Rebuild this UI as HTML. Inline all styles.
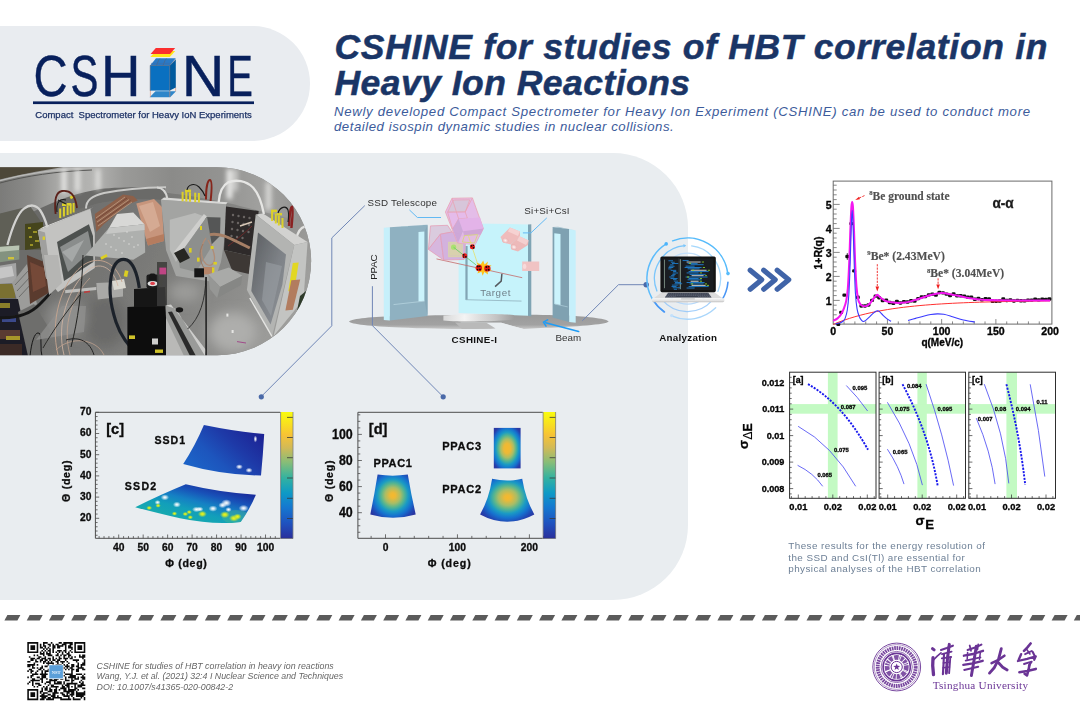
<!DOCTYPE html>
<html>
<head>
<meta charset="utf-8">
<title>CSHINE</title>
<style>
html,body{margin:0;padding:0;background:#fff;}
body{width:1080px;height:726px;position:relative;overflow:hidden;font-family:"Liberation Sans",sans-serif;}
.abs{position:absolute;}
#pill{left:0;top:26px;width:310px;height:115px;background:#e9ecf0;border-radius:0 58px 58px 0;}
#panel{left:0;top:153px;width:688px;height:447px;background:#e9edf0;border-radius:0 75px 75px 0;}
#title{left:334.5px;top:28.6px;width:740px;color:#1a3566;font-weight:bold;font-style:italic;font-size:35.5px;line-height:36.3px;white-space:nowrap;-webkit-text-stroke:0.5px #1a3566;}
#t1{letter-spacing:0.68px;}#t2{letter-spacing:0.46px;}
#sub{left:334px;top:105.3px;width:740px;color:#3c5b9b;font-style:italic;font-size:13.2px;line-height:14.4px;white-space:nowrap;}
#s1{letter-spacing:0.70px;}#s2{letter-spacing:0.535px;}
#cite{left:96.6px;top:660.6px;color:#666;font-style:italic;font-size:8.8px;line-height:10.5px;white-space:nowrap;}
#caption{left:788.3px;top:540.2px;color:#6c7f95;font-size:9.9px;line-height:11.35px;white-space:nowrap;letter-spacing:0.42px;}
svg{position:absolute;left:0;top:0;overflow:visible;will-change:transform;}
svg text{font-family:"Liberation Sans",sans-serif;}
</style>
</head>
<body>
<div id="pill" class="abs"></div>
<div id="panel" class="abs"></div>

<div id="title" class="abs"><span id="t1">CSHINE for studies of HBT correlation in</span><br><span id="t2">Heavy Ion Reactions</span></div>
<div id="sub" class="abs"><span id="s1">Newly developed Compact Spectrometer for Heavy Ion Experiment (CSHINE) can be used to conduct more</span><br><span id="s2">detailed isospin dynamic studies in nuclear collisions.</span></div>

<!-- MAIN-SVG -->
<svg id="main" width="1080" height="726" viewBox="0 0 1080 726">
<defs>
</defs>
<!-- LOGO -->
<g id="logo">
<text transform="translate(33.60,96.20) scale(0.4721,0.5727)" font-size="100" font-weight="normal" font-style="normal" fill="#08205c" stroke="#08205c" stroke-width="0.8">C</text>
<text transform="translate(70.50,96.20) scale(0.4186,0.5727)" font-size="100" font-weight="normal" font-style="normal" fill="#08205c" stroke="#08205c" stroke-width="0.8">S</text>
<text transform="translate(100.92,96.20) scale(0.5460,0.5727)" font-size="100" font-weight="normal" font-style="normal" fill="#08205c" stroke="#08205c" stroke-width="0.8">H</text>
<text transform="translate(181.75,96.20) scale(0.5908,0.5727)" font-size="100" font-weight="normal" font-style="normal" fill="#08205c" stroke="#08205c" stroke-width="0.8">N</text>
<text transform="translate(227.25,96.20) scale(0.3838,0.5727)" font-size="100" font-weight="normal" font-style="normal" fill="#08205c" stroke="#08205c" stroke-width="0.8">E</text>
<rect x="33" y="101.4" width="221" height="2.7" fill="#08205c"/>
<text x="35.3" y="117.8" font-size="9.1" fill="#1d3266" stroke="#1d3266" stroke-width="0.25" textLength="216.5" lengthAdjust="spacingAndGlyphs" xml:space="preserve">Compact  Spectrometer for Heavy IoN Experiments</text>
<polygon points="150.3,57 156,51 175.3,51 169.8,57" fill="#ffe71a"/>
<polygon points="150.6,53.9 155.8,48 175.2,48 170,53.9" fill="#fb2e2e"/>
<polygon points="149.6,97.3 170.2,97.3 176,91.2 155.5,91.2" fill="#2f86c9"/>
<g stroke="#d98a6a" stroke-width="0.6"><line x1="150.4" y1="90" x2="150.4" y2="97"/><line x1="169.8" y1="90" x2="169.8" y2="97"/><line x1="175.6" y1="87" x2="175.6" y2="91.5"/></g>
<polygon points="150.2,65.4 156,58.2 175.8,58.2 169.8,65.4" fill="#2a7ac6"/>
<polygon points="169.8,65.4 175.8,59.6 175.8,87.6 169.8,90.6" fill="#005a9e"/>
<rect x="150.2" y="65.4" width="19.6" height="25.2" fill="#0a70c0"/>
<g stroke="#5a5f70" stroke-width="0.55" fill="none"><path d="M150.2,90.6V65.4H169.8V90.6"/><path d="M156.5,65.4 L158.5,60.5 L160,58.4"/><path d="M163,65.4 L165,60.5 L166.5,58.4"/><path d="M169.8,65.4 L175.8,59.6"/><path d="M151,63.4 H170.5" stroke="#3b6ea8"/></g>
</g>
<!-- PHOTO -->
<defs>
<clipPath id="phclip"><path d="M0,167.3 H217.2 A93.85,93.85 0 0 1 217.2,355.2 H0 Z"/></clipPath>
<filter id="phblur" x="-5%" y="-5%" width="110%" height="110%"><feGaussianBlur stdDeviation="0.55"/></filter>
<filter id="phblur2" x="-30%" y="-30%" width="160%" height="160%"><feGaussianBlur stdDeviation="2.5"/></filter>
<filter id="phblur3" x="-30%" y="-30%" width="160%" height="160%"><feGaussianBlur stdDeviation="6"/></filter>
<linearGradient id="phwall" x1="0" y1="0" x2="1" y2="0">
<stop offset="0" stop-color="#7a7a78"/><stop offset="0.1" stop-color="#8a8a88"/><stop offset="0.19" stop-color="#a9a9a7"/><stop offset="0.3" stop-color="#b4b4b2"/><stop offset="0.4" stop-color="#9a9a98"/><stop offset="0.55" stop-color="#8b8b89"/><stop offset="0.7" stop-color="#939391"/><stop offset="0.85" stop-color="#a2a2a0"/><stop offset="1" stop-color="#8c8c8a"/>
</linearGradient>
<linearGradient id="phfloor" gradientUnits="userSpaceOnUse" x1="40" y1="240" x2="290" y2="350">
<stop offset="0" stop-color="#6c6c6a"/><stop offset="0.45" stop-color="#7c7c7a"/><stop offset="0.75" stop-color="#8e8e8c"/><stop offset="1" stop-color="#a2a2a0"/>
</linearGradient>
<linearGradient id="phwin" x1="0" y1="0" x2="1" y2="1"><stop offset="0" stop-color="#5a5d60"/><stop offset="0.55" stop-color="#7e8287"/><stop offset="1" stop-color="#8f9398"/></linearGradient>
</defs>
<g clip-path="url(#phclip)">
<rect x="-2" y="165" width="316" height="192" fill="#858583"/>
<g filter="url(#phblur)">
<!-- wall + floor -->
<rect x="-2" y="165" width="316" height="72" fill="url(#phwall)"/>
<path d="M-2,236 C30,214 60,198 100,190 C130,186 200,196 240,206 L316,225 V360 H-2 Z" fill="url(#phfloor)"/>
<path d="M-2,232 C30,212 60,196 100,189 C120,187 150,187 165,188 V200 C140,198 110,200 95,204 C60,214 30,230 -2,248 Z" fill="#6a6a68"/>
<!-- top rim dark -->
<path d="M-2,165 H76 C50,169 20,174 -2,180 Z" fill="#4d4738"/>
<path d="M-2,181 C28,173 55,169 92,167.5" stroke="#b9b9b7" stroke-width="1.6" fill="none"/>
<path d="M-2,183.5 C28,175.5 55,171.5 92,170" stroke="#555553" stroke-width="1" fill="none"/>
<!-- wall highlights & floor sheen -->
<g filter="url(#phblur2)">
<rect x="62" y="169" width="4" height="24" fill="#f6f6f4"/>
<rect x="75.5" y="169" width="4" height="23" fill="#efefed"/>
<rect x="96" y="169" width="4" height="21" fill="#e9e9e7"/>
<rect x="227" y="169" width="5" height="30" fill="#f6f6f4"/>
<rect x="234" y="169" width="3" height="22" fill="#e4e4e2"/>
<rect x="266" y="182" width="5" height="28" fill="#dededc"/>
</g>
<g filter="url(#phblur3)">
<ellipse cx="233" cy="332" rx="24" ry="20" fill="#aeaeac"/>
<ellipse cx="185" cy="292" rx="16" ry="10" fill="#9c9c9a"/>
<ellipse cx="105" cy="322" rx="22" ry="26" fill="#6b6b69"/>
<ellipse cx="66" cy="318" rx="20" ry="18" fill="#8c8c8a"/>
</g>
<!-- left clutter -->
<polygon points="-2,214 30,206 44,226 44,250 -2,250" fill="#5e5e56"/>
<polygon points="25,224 43,222 43,248 25,250" fill="#45441f"/>
<g fill="#9a9228"><rect x="28" y="227" width="3" height="2"/><rect x="33" y="231" width="4" height="2"/><rect x="29" y="236" width="3" height="2"/><rect x="35" y="240" width="4" height="2"/><rect x="30" y="244" width="3" height="2"/></g>
<polygon points="-2,247 19.3,245.5 19.3,259.5 -2,262.5" fill="#83927f"/>
<polygon points="-2,247 19.3,245.5 19,250 -2,252" fill="#b9c4b2"/>
<rect x="8" y="257" width="6" height="2.4" fill="#cfc23a"/>
<polygon points="-2,266 16,263 17,283 -2,284" fill="#a4a4a4"/>
<polygon points="-2,268 12,266 14,276 -2,279" fill="#c6c6c6"/>
<polygon points="-2,284 15,284 15,298 -2,298" fill="#7a7030"/>
<polygon points="12,283 27,264 37,304 21,314" fill="#9c9c9a"/>
<path d="M15,285 L29,270 M17,291 L31,276 M19,297 L33,282" stroke="#5f5f5d" stroke-width="0.8"/>
<polygon points="27,255 49,264 50,292 30,304" fill="#5a3a2e"/>
<polygon points="30,262 44,268 46,286 33,292" fill="#744838"/>
<polygon points="-2,299 18,299 30,356 -2,356" fill="#1f1f26"/>
<polygon points="18,312 34,304 50,330 40,356 28,356" fill="#6e6e6c"/>
<rect x="-2" y="303" width="12" height="5" fill="#8a7f2c"/>
<rect x="2" y="318" width="14" height="4" fill="#3a4a8a"/>
<rect x="0" y="330" width="20" height="9" fill="#5a3a30"/>
<rect x="6" y="336" width="14" height="4" fill="#a8962c"/>
<rect x="-2" y="344" width="24" height="12" fill="#3a2c28"/>
<path d="M-2,317.5 C14,318.5 30,314.5 40,304 C45,299 48,296 50,293" stroke="#181818" stroke-width="3" fill="none"/>
<path d="M30,356 C32,338 36,330 40,334 C42,340 40,350 42,356" stroke="#161616" stroke-width="1" fill="none"/>
<!-- ribbon cables -->
<polygon points="94.8,214 123,194.6 133.3,196 137.8,200.6 127,205 103.7,224.3 96.3,232" fill="#8d604a"/>
<path d="M96,218 L125,197 M97,222 L129,199.5 M98,226 L132,202" stroke="#b9957c" stroke-width="0.9" fill="none"/>
<path d="M96,220 L127,198 M97.5,224 L130.5,200.5" stroke="#6d3f30" stroke-width="0.7" fill="none"/>
<!-- copper plate -->
<polygon points="136.3,203.5 154,199 162,207 164,241 148,245.5 146,239" fill="#c7957b"/>
<polygon points="139,206 153,202 160,226 150,232" fill="#d5aa93"/>
<polygon points="146,239 164,234 164,241 148,245.5" fill="#b57b5e"/>
<!-- left PPAC box -->
<polygon points="37.8,230.2 90.4,208.7 94.8,233 94.8,268 58,292 46,278" fill="#c3c3c1"/>
<polygon points="37.8,230.2 42,227.6 93.6,207.2 90.4,208.7" fill="#e6e6e4"/>
<polygon points="37.8,230.2 46,278 52,285 45,232.6" fill="#a0a09e"/>
<polygon points="57,242 88.9,224.3 93,236 93.4,262 64,281" fill="#4e5150"/>
<polygon points="60,247 88,231 92,250 68,272" fill="#8a8d8c"/>
<polygon points="62,252 84,240 72,262" fill="#a5a8a7"/>
<rect x="42.6" y="236.5" width="2.4" height="3.4" fill="#d8cc2e"/>
<!-- yellow connectors left -->
<g fill="#dcd02a"><rect x="59.2" y="208.5" width="2" height="9.5"/><rect x="62.9" y="207" width="2" height="9.5"/><rect x="66.6" y="205.5" width="2" height="9.5"/><rect x="69.7" y="204.2" width="2" height="9.5"/><rect x="72.6" y="203" width="2" height="9.5"/><rect x="62" y="203.4" width="4.4" height="2.6"/><rect x="67" y="203" width="4.4" height="2.6"/><rect x="70" y="195.6" width="4.4" height="2.8" transform="rotate(-30 72 197)"/></g>
<path d="M55.6,214 C54,200 56,192 62,191 C70,190 75,194 77,208" stroke="#5c221a" stroke-width="1.8" fill="none"/>
<path d="M57,212 C56,202 60,198 66,200 M58,200 L66,204" stroke="#1a1a1a" stroke-width="1.1" fill="none"/>
<!-- white tube left -->
<path d="M7.4,245 C12,228 18,213 24,208.6 C30,204 36,204.6 40,210 C44,216 46,222 47.4,227.4" stroke="#d2d2d0" stroke-width="2.3" fill="none"/>
<!-- tube middle top -->
<path d="M86,208.5 C86,200 92,196 104,193 C124,189 145,187.6 166,187.2" stroke="#c9c9c7" stroke-width="2" fill="none"/>
<!-- bracket -->
<polygon points="117,214 133.3,212.4 144.4,224.3 108.9,228" fill="#d8d8d6"/>
<polygon points="85.2,255.4 108.9,228 144.4,224.3 145.2,252.4 133.3,259.8" fill="#aeb0ae"/>
<polygon points="108.9,228 144.4,224.3 144.6,230 106,234" fill="#c6c7c5"/>
<g fill="#e2e2e0"><circle cx="114" cy="235" r="0.7"/><circle cx="119" cy="238" r="0.7"/><circle cx="124" cy="241" r="0.7"/><circle cx="129" cy="244" r="0.7"/><circle cx="134" cy="247" r="0.7"/><circle cx="106" cy="244" r="0.7"/><circle cx="111" cy="247" r="0.7"/><circle cx="116" cy="250" r="0.7"/><circle cx="122" cy="253" r="0.7"/><circle cx="132" cy="237" r="0.7"/><circle cx="138" cy="245" r="0.7"/><circle cx="127" cy="232" r="0.7"/></g>
<rect x="100.5" y="255.5" width="7" height="2.8" fill="#dccf24" transform="rotate(-28 104 257)"/>
<!-- box side/lower -->
<polygon points="44,255 58,255 62,283 49,295" fill="#b5b5b3"/>
<!-- horizontal bar + block -->
<polygon points="65.2,290 96.3,287 96.3,290 65.2,293.2" fill="#bdbdbb"/>
<polygon points="96.3,283.1 123,281.7 123,296.5 97.8,299.4" fill="#a9a9a7"/>
<polygon points="112,281 124,279 126,288 114,290" fill="#dad8d0"/>
<rect x="84" y="291.6" width="6" height="1.4" fill="#c03a3a" transform="rotate(-8 84 292)"/>
<rect x="124.4" y="270.6" width="3.6" height="6" fill="#dccf24" transform="rotate(12 126 273)"/>
<!-- slab -->
<polygon points="36,340 84,332 86,306 62,306" fill="#8f8f8d" opacity="0.8"/>
<!-- wires -->
<path d="M58,355 C50,322 60,284 82,266 C98,254 116,262 122,282" stroke="#c7a690" stroke-width="0.9" fill="none"/>
<path d="M64,355 C56,324 68,288 88,270 C102,260 114,270 118,286" stroke="#d4b8a4" stroke-width="0.8" fill="none"/>
<path d="M70,355 C62,326 72,296 90,278" stroke="#c7a690" stroke-width="0.7" fill="none"/>
<path d="M56,350 C70,336 96,338 104,355" stroke="#c7a690" stroke-width="0.7" fill="none"/>
<path d="M83,255 C82,290 78,320 71,347" stroke="#222220" stroke-width="1" fill="none"/>
<path d="M80,295 C66,312 52,332 43,348" stroke="#222220" stroke-width="0.9" fill="none"/>
<path d="M66,340 C80,336 90,342 94,355" stroke="#1c1c1c" stroke-width="0.9" fill="none"/>
<!-- black cable loop -->
<path d="M139.3,356 C128,346 120,334 116,322 C110,304 108,286 112.6,270 C116,260 122,258 127,260 C133,263 137,272 139.3,288" stroke="#1f242b" stroke-width="3.2" fill="none"/>
<!-- black motor -->
<polygon points="127.4,307 166,305 167,356 127.4,356" fill="#111"/>
<polygon points="134,289 165,287 166,307 134,307" fill="#151515"/>
<rect x="146.5" y="274.5" width="12" height="14" rx="2" fill="#1b1b1b"/>
<ellipse cx="152.6" cy="283.6" rx="5" ry="2.6" fill="#dedede"/>
<ellipse cx="152.6" cy="283.4" rx="2.4" ry="1.6" fill="#e0404c"/>
<rect x="149.5" y="273.5" width="6" height="6" rx="1.5" fill="#161616"/>
<rect x="129" y="335.4" width="6" height="3.6" fill="#cfc22a"/>
<rect x="152" y="338.5" width="6" height="6" fill="#cfcfcd"/>
<rect x="155" y="349.5" width="8" height="3.4" fill="#cfc22a"/>
<rect x="159.4" y="267.6" width="6.8" height="6.8" fill="#bf4484"/>
<rect x="157" y="262" width="10" height="44" fill="#3b3b3a" opacity="0.85"/>
<rect x="159.4" y="267.6" width="6.8" height="6.8" fill="#bf4484"/>
<!-- rail -->
<polygon points="165.4,305.4 176,309 205,356 168,356" fill="#9a9b99"/>
<polygon points="165.4,305.4 171,304.6 206,350 205,356 176,309" fill="#cdcdcb"/>
<polygon points="168,312 172,311.4 196,356 190,356" fill="#2c2c2a"/>
<polygon points="166,318 184,356 166,356" fill="#b9b9b7"/>
<ellipse cx="179.4" cy="309.8" rx="3.8" ry="2.6" fill="#191919"/>
<!-- middle PPAC box -->
<polygon points="160.9,199.8 226.1,204.3 225,236 221,262 214,282 176,276 166,250" fill="#a3a4a2"/>
<polygon points="160.9,199.8 164,197.6 227.6,202.2 226.1,204.3" fill="#d8d8d6"/>
<polygon points="204,217 220.5,217.5 220,236 211,245" fill="#555756"/>
<polygon points="169.8,219.8 195,213 203,216 176,262 169.8,250" fill="#b9bab8"/>
<polygon points="174,252 203.9,214 207,216.5 178,257" fill="#cfcfcd"/>
<polygon points="178,257 207,216.5 212,246 196,272 180,268" fill="#8d8f8d"/>
<!-- yellow connectors mid -->
<g fill="#dcd02a"><rect x="181.6" y="191.8" width="2" height="9.5"/><rect x="185.3" y="192" width="2" height="9.5"/><rect x="189" y="192.3" width="2" height="9.5"/><rect x="194.2" y="192.7" width="2" height="9.5"/><rect x="197.9" y="193" width="2" height="9.5"/><rect x="185" y="189.6" width="6" height="2.6"/></g>
<path d="M206,199.5 C206,188 207.5,180 210,180 C212.5,180.6 211.6,192 210.6,201" stroke="#86261c" stroke-width="2" fill="none"/>
<path d="M187,190 C188,184 195,183 199,187 C202,190 204,193 205,196" stroke="#1a1a1a" stroke-width="1.1" fill="none"/>
<path d="M157,187.4 C162,187.6 166,190 167.4,199" stroke="#d5d5d3" stroke-width="2" fill="none"/>
<!-- tubes right -->
<path d="M218.7,202 C219.5,192 222,185.5 228,182.4 C236,179 246,181 253,187.5 C259,194 262,204 263.9,214" stroke="#e6e6e4" stroke-width="2.3" fill="none"/>
<path d="M296.5,239 C297.5,232 300,228 305,226.4 L312,225" stroke="#e2e2e0" stroke-width="2.2" fill="none"/>
<!-- dark connector region -->
<polygon points="226,206.5 258.7,211 256,236 251.3,256 224,250" fill="#2d2b2a"/>
<g fill="#6b6664"><circle cx="233" cy="215" r="1.2"/><circle cx="238.5" cy="216" r="1.2"/><circle cx="244" cy="217" r="1.2"/><circle cx="249.5" cy="218" r="1.2"/><circle cx="232.5" cy="222" r="1.2"/><circle cx="238" cy="223" r="1.2"/><circle cx="243.5" cy="224" r="1.2"/><circle cx="249" cy="225" r="1.2"/><circle cx="232" cy="229" r="1.2"/><circle cx="237.5" cy="230" r="1.2"/><circle cx="243" cy="231" r="1.2"/><circle cx="248.5" cy="232" r="1.2"/><circle cx="231.5" cy="236" r="1.2"/><circle cx="237" cy="237" r="1.2"/><circle cx="242.5" cy="238" r="1.2"/></g>
<path d="M240,226 L252,222" stroke="#d8c8b8" stroke-width="1.4"/>
<path d="M228,246 C236,240 246,232 252,226" stroke="#7a2a2a" stroke-width="0.8" fill="none"/>
<polygon points="224,250 251.3,256 249,274 232,270" fill="#3d3836"/>
<!-- cable bundle -->
<path d="M209.8,234.6 C215,233.6 220,234.6 224.6,236.1 C230,238 236,241 249.8,248" stroke="#a67f66" stroke-width="3" fill="none"/>
<path d="M206,238 C200,246 200,258 206,264 C212,268 216,262 214,254 C213,248 210,244 208,240" stroke="#b08c76" stroke-width="1.3" fill="none"/>
<path d="M203,244 C198,252 200,262 204,268" stroke="#9c7862" stroke-width="1" fill="none"/>
<!-- detector on pole -->
<polygon points="174,253 184,248 190,258 180,263" fill="#262624"/>
<rect x="194.3" y="268.3" width="9.8" height="9" fill="#131313"/>
<rect x="204" y="267" width="10" height="7.4" fill="#b5856a"/>
<rect x="212" y="267.4" width="2.4" height="6.4" fill="#dccf24"/>
<path d="M206.1,277 V356" stroke="#1d1d1d" stroke-width="1.5"/>
<path d="M206,277 C205.4,300 200,318 187.6,329" stroke="#1d1d1d" stroke-width="0.8" fill="none"/>
<g fill="#dccf24"><rect x="189" y="248" width="2.6" height="4.6"/><rect x="210.6" y="246" width="3" height="3" /><rect x="197" y="257.6" width="2.6" height="4"/><rect x="200" y="226" width="2" height="4"/><rect x="213.5" y="262" width="3.4" height="2.6"/></g>
<!-- small aluminium block -->
<polygon points="208.3,274.3 229,267.6 242.4,275.7 220,287" fill="#a9aaa8"/>
<polygon points="220,287 242.4,275.7 241,285 217.2,298" fill="#868785"/>
<polygon points="208.3,274.3 220,287 217.2,298 209.8,289" fill="#969795"/>
<!-- right PPAC box -->
<polygon points="255.7,214.6 263,213.4 307.6,242 294.3,245" fill="#d2d2d0"/>
<polygon points="294.3,245 307.6,242 303.5,299.5 273.6,336" fill="#c3c4c2"/>
<polygon points="255.7,214.6 294.3,245 272,337 246.9,290" fill="#b3b4b2"/>
<polygon points="258,232.5 286,254.6 282.4,284.6 270.6,324.6 251.3,291" fill="url(#phwin)"/>
<polygon points="266,262 282,266 271,316 262,300" fill="#9a9ea3" opacity="0.6"/>
<path d="M249.8,298 L272,336.5" stroke="#e4e4e2" stroke-width="1.5"/>
<polygon points="292.8,263.1 298.7,262.4 294.3,290.6 288.3,291.3" fill="#e2d722"/>
<polygon points="291.3,280.2 300.2,279.4 292.8,309.8 285.4,310.6" fill="#b27c5e"/>
<g fill="#dcd02a"><rect x="271.1" y="211" width="2" height="10"/><rect x="274.8" y="213.5" width="2" height="10"/><rect x="277.8" y="215.5" width="2" height="10"/><rect x="281.5" y="218" width="2" height="10"/><rect x="271" y="209.6" width="6" height="2.6"/><rect x="277" y="213" width="5" height="2.4"/></g>
<path d="M289,226 C289.6,214 290.6,206.5 292,206.6 C293.6,207.6 292.4,218 291.4,228" stroke="#8a2222" stroke-width="2.4" fill="none"/>
<path d="M278,213 C280,207 286,205 288,210 C289,214 288.6,218 288,222" stroke="#1a1a1a" stroke-width="1.1" fill="none"/>
<polygon points="300,296 312,286 312,320 296,316" fill="#2e3a2c"/>
<!-- floor specks -->
<g fill="#e6e6e4"><rect x="226.4" y="313.6" width="2" height="3"/><rect x="231.6" y="330" width="2" height="3"/></g>
<path d="M237,341.6 L246,343" stroke="#a04a8a" stroke-width="1"/>
</g>
</g>

<!-- DIAGRAM -->
<defs>
<linearGradient id="turn" x1="0" y1="0" x2="1" y2="0"><stop offset="0" stop-color="#d9d9d9"/><stop offset="0.3" stop-color="#f4f4f4"/><stop offset="0.75" stop-color="#c4c4c4"/><stop offset="1" stop-color="#9e9e9e"/></linearGradient>
<linearGradient id="diskg" x1="0" y1="0" x2="0" y2="1"><stop offset="0" stop-color="#9a9a9a"/><stop offset="0.7" stop-color="#a2a2a2"/><stop offset="1" stop-color="#c8c8c8"/></linearGradient>
<radialGradient id="hole"><stop offset="0" stop-color="#fff4f4"/><stop offset="1" stop-color="#e9b0b0"/></radialGradient>
</defs>
<g id="diagram">
<!-- base disk -->
<path d="M349,321.5 C352,318.5 372,316.8 400,316 C440,314.8 520,314.2 560,315.2 C585,316 606,318.4 608.8,321.4 C606,324.6 575,326.6 545,327.8 L523.6,329 L501.2,322.8 L460,322.8 L495.4,328.8 C470,329.4 430,329 400,327.6 C370,326.2 351,324.2 349,321.5 Z" fill="url(#diskg)"/>
<path d="M460,322.8 L501.2,322.8 L523.6,329 L495.4,328.8 Z" fill="#e9edf0"/>
<path d="M455,322.6 L486,322.6 L495.6,328.6 L462,329 Z" fill="#b9b9b9"/>
<!-- center panel -->
<polygon points="458.6,223.2 528,224.4 528,315.8 458.6,313" fill="#c6f3fb"/>
<polygon points="528,224.4 531.3,224.2 531.3,316.4 528,315.8" fill="#7fa4b4"/>
<rect x="465.4" y="246" width="2.2" height="53.8" fill="#82a5b4"/>
<path d="M465.8,299.7 L521.5,301.1" stroke="#8fb0bd" stroke-width="0.8" fill="none"/>
<!-- turntable -->
<path d="M443.4,315.6 C460,313.6 500,313.4 513.8,315 V319.6 C500,321.8 460,322 443.4,320.4 Z" fill="url(#turn)"/>
<!-- left PPAC -->
<polygon points="383.8,227.7 389.9,227.3 389.9,320.4 383.8,319.9" fill="#c6f0fb"/>
<polygon points="389.9,227.3 427.5,224.8 427.5,316 389.9,320.4" fill="#8fb1c1"/>
<polygon points="383.8,227.7 421,225 427.5,224.8 389.9,227.3" fill="#a9c7d3"/>
<polygon points="418.5,232 424.6,231.6 424.6,301 418.5,301.6" fill="#cbf3fc"/>
<polygon points="424.6,231.6 427.5,224.8 427.5,316 424.6,301" fill="#86a8b8"/>
<path d="M393.5,304.6 L424.6,301.1" stroke="#b5d3de" stroke-width="0.8" fill="none"/>
<!-- right PPAC -->
<polygon points="552.6,227.1 569.2,229 569.2,322 552.6,317.6" fill="#7fa1b1"/>
<polygon points="569.2,229 575.7,230.4 575.7,322.8 569.2,322" fill="#c6f0fb"/>
<polygon points="552.6,227.1 558,226.8 575.7,230.4 569.2,229" fill="#9fbfcc"/>
<polygon points="554.3,233.3 560.5,234 560.5,305.2 554.3,304" fill="#cbf3fc"/>
<path d="M554.7,304 L567.7,306.9" stroke="#a9c9d5" stroke-width="0.8" fill="none"/>
<!-- pink small boxes -->
<polygon points="500.5,237 509.9,227.6 520,231.6 520,236 510.8,244.4 503,242.6" fill="#efbcbc"/>
<polygon points="509.9,227.6 520,231.6 518,236 508,231.5" fill="#f6d2d2"/>
<ellipse cx="505.4" cy="240.6" rx="3.2" ry="2.6" fill="url(#hole)" transform="rotate(25 505.6 240.4)"/>
<polygon points="510.8,244.4 519.4,236.2 528.6,240.4 528,245 518,251.6 511.4,249.6" fill="#edb9b9"/>
<polygon points="519.4,236.2 528.6,240.4 526,245 517,240.6" fill="#f5cfcf"/>
<ellipse cx="514" cy="247.2" rx="3.2" ry="2.6" fill="url(#hole)" transform="rotate(25 514.2 247)"/>
<rect x="522.2" y="261.5" width="17" height="9.5" fill="#f0c3c3"/>
<ellipse cx="524.6" cy="266.4" rx="1.8" ry="2.6" fill="#f8dada"/>
<!-- beam line -->
<path d="M436.5,258.9 L522.2,277.7" stroke="#c46a6a" stroke-width="0.8" fill="none"/>
<!-- cube 2 (left) -->
<g stroke="#e3a0b6" stroke-width="0.8" stroke-linejoin="round">
<polygon points="430.5,225.9 447.6,225.3 452,232 440.4,234.2 428.4,249.4" fill="#d8c6dc" fill-opacity="0.9"/>
<polygon points="428.4,249.4 440.4,234.2 443.7,260" fill="#d5b0dc" fill-opacity="0.9"/>
<polygon points="440.4,234.2 452,232 466,236 464.1,259.5 443.7,260" fill="#d0acdc" fill-opacity="0.92"/>
</g>
<rect x="448.1" y="241.8" width="14.8" height="15.4" fill="#d9d6a6" opacity="0.85"/>
<rect x="449.6" y="243.4" width="11.8" height="12.2" fill="none" stroke="#d7c7b9" stroke-width="0.6"/>
<circle cx="453.6" cy="247.2" r="2.6" fill="#a6e36a" opacity="0.9"/>
<!-- cube 1 (upper) -->
<g stroke="#e8a3b4" stroke-width="0.8" stroke-linejoin="round">
<polygon points="452,198.3 472.4,197.9 483.4,228.6 475.1,244.6 457.5,242.9 445.4,212" fill="#e2b6e6" fill-opacity="0.88"/>
<polygon points="453.4,200 469.8,199.8 465.2,212 447.6,212.2" fill="#d7c6da"/>
<polygon points="447.6,212.2 465.2,212 467.4,218.2 458.6,218.8 452.6,229" fill="#e4baea" fill-opacity="0.9"/>
<path d="M472.4,197.9 L465.2,212 M452,198.3 L458.6,218.8" fill="none"/>
</g>
<polygon points="458.6,218.7 480.1,217.6 483.4,228.6 463,231.3" fill="#e3b3e8"/>
<polygon points="463,231.3 483.4,228.6 480.8,234.4 464.2,236.6" fill="#d0a6d6"/>
<polygon points="461,236.2 479,234.4 475.2,244.6 459.4,243" fill="#e3bde0" opacity="0.95"/>
<path d="M464.4,235.6 L477.6,234.6 L474.4,243 L462.4,242 Z" fill="none" stroke="#d8d28a" stroke-width="1"/>
<polygon points="452.6,229 458.6,218.8 463,231.3 458,242.8" fill="#cba5d6" fill-opacity="0.9"/>
<!-- tracks -->
<path d="M468.5,236.3 L477.3,262.8" stroke="#e6e06a" stroke-width="0.8"/>
<path d="M453.6,247.3 L476.2,265" stroke="#62c862" stroke-width="0.8"/>
<!-- particles -->
<g>
<circle cx="472.4" cy="246.8" r="2.5" fill="#ee1c1c"/><circle cx="471.4" cy="245.8" r="0.9" fill="#111"/><circle cx="473.6" cy="247.8" r="0.9" fill="#111"/><circle cx="473.4" cy="245.4" r="0.7" fill="#111"/>
<circle cx="464.7" cy="255.8" r="2.5" fill="#ee1c1c"/><circle cx="463.7" cy="254.8" r="0.9" fill="#111"/><circle cx="465.9" cy="256.8" r="0.9" fill="#111"/><circle cx="463.6" cy="257" r="0.7" fill="#111"/>
</g>
<!-- explosion -->
<polygon points="483.2,260.4 484.6,264.4 488,261.6 487,265.6 491.6,265.2 488.4,268 491.8,270.6 487.6,270.8 488,274.6 484.4,272 482.6,275.8 481.4,271.8 477.4,273.6 478.8,269.8 474.8,268.4 478.6,266.4 476.4,262.6 480.8,264.2" fill="#ffc21a"/>
<circle cx="478.9" cy="268" r="3.2" fill="#e81c14"/><circle cx="487.4" cy="268.4" r="3.2" fill="#e81c14"/>
<g fill="#1a0a0a"><circle cx="477.8" cy="266.6" r="1"/><circle cx="480" cy="269.4" r="1"/><circle cx="479.8" cy="266.4" r="0.8"/><circle cx="477.6" cy="269.6" r="0.8"/><circle cx="486.4" cy="267" r="1"/><circle cx="488.6" cy="269.8" r="1"/><circle cx="488.6" cy="266.8" r="0.8"/><circle cx="486.2" cy="270" r="0.8"/></g>
<!-- target pointer -->
<path d="M501.9,273.8 L501.2,281.1 L495.1,286.6" stroke="#55595e" stroke-width="1.5" fill="none"/>
<!-- labels -->
<text x="367.4" y="205.7" font-size="9.8" fill="#333" textLength="69.6">SSD Telescope</text>
<text x="524.3" y="214.2" font-size="9.8" fill="#333" textLength="45.2">Si+Si+CsI</text>
<text x="480.2" y="296.2" font-size="9.8" fill="#70808a" textLength="30.2">Target</text>
<text x="555.4" y="340.9" font-size="9.8" fill="#333" textLength="25.8">Beam</text>
<text x="451.6" y="343" font-size="9.8" font-weight="bold" fill="#111" textLength="45.4">CSHINE-I</text>
<text transform="translate(377,279.8) rotate(-90)" font-size="9.8" fill="#222" textLength="25.4">PPAC</text>
<!-- blue leader lines -->
<path d="M409.4,209.9 L417.4,217.5 H441" stroke="#62b9f3" stroke-width="1" fill="none"/>
<path d="M546.8,217.9 L530.9,232.9 H522.9" stroke="#62b9f3" stroke-width="1" fill="none"/>
<!-- beam arrow -->
<path d="M578.6,331.5 L545.6,322.8" stroke="#1f9cf5" stroke-width="1.7" fill="none" stroke-linecap="round"/>
<path d="M547.6,319.8 L543.4,322.2 L546,326.2" stroke="#1f9cf5" stroke-width="1.5" fill="none" stroke-linecap="round" stroke-linejoin="round"/>
</g>

<!-- LINES -->
<g id="lines" fill="none" stroke="#6f86b6" stroke-width="1">
<path d="M364.8,205.6 L331.8,237.9 V325.8 L261.8,396"/>
<path d="M372.4,286.2 V325.6 L442.6,396.2"/>
<path d="M582.3,320.8 L618.5,284.7 H645.5"/>
</g>
<g fill="#4a69a8"><circle cx="261.3" cy="396.8" r="2.6"/><circle cx="443.2" cy="396.8" r="2.6"/><circle cx="646.2" cy="284.7" r="2.7"/></g>

<!-- LAPTOP -->
<g id="laptop">
<path d="M663.87,311.62 A40.6,40.6 0 0 1 666.30,243.97" stroke="#5dbcfb" stroke-width="1.5" fill="none" stroke-linecap="round" opacity="1"/>
<path d="M672.61,240.83 A40.6,40.6 0 0 1 727.77,273.45" stroke="#56bbfb" stroke-width="1.5" fill="none" stroke-linecap="round" opacity="1"/>
<path d="M727.93,282.28 A40.6,40.6 0 0 1 722.65,298.93" stroke="#4a96f5" stroke-width="1.6" fill="none" stroke-linecap="round" opacity="1"/>
<path d="M715.70,307.81 A40.6,40.6 0 0 1 671.48,315.91" stroke="#a9d6fb" stroke-width="1.3" fill="none" stroke-linecap="round" opacity="1"/>
<path d="M664.45,312.02 A40.6,40.6 0 0 1 653.23,300.36" stroke="#4a96f5" stroke-width="1.6" fill="none" stroke-linecap="round" opacity="1"/>
<circle cx="666.2" cy="243.9" r="1.8" fill="#4db4fb"/>
<circle cx="728" cy="273.6" r="1.8" fill="#56bbfb"/>
<circle cx="671.7" cy="315.6" r="1.7" fill="#c3e0fb"/>
<path d="M656.92,291.00 A33,33 0 0 1 684.79,245.71" stroke="#7cc6fb" stroke-width="1.3" fill="none" stroke-linecap="round" opacity="1"/>
<polygon points="686.2,245.6 683.4,244 683.6,247.4" fill="#7cc6fb"/>
<path d="M691.69,245.87 A33,33 0 0 1 717.90,291.45" stroke="#a6d8fc" stroke-width="1.3" fill="none" stroke-linecap="round" opacity="1"/>
<path d="M712.05,300.65 A33,33 0 0 1 662.03,299.58" stroke="#8cc3fa" stroke-width="1.2" fill="none" stroke-linecap="round" opacity="0.8"/>
<path d="M663.54,269.88 A25.5,25.5 0 0 1 711.46,269.88" stroke="#c4e0fb" stroke-width="1.2" fill="none" stroke-linecap="round" opacity="1"/>
<path d="M709.58,291.35 A25.5,25.5 0 0 1 665.42,291.35" stroke="#b7d9fb" stroke-width="1.2" fill="none" stroke-linecap="round" opacity="1"/>
<polygon points="662,292 714,292 722.6,298.3 653.8,298.3" fill="#dcdcdc"/>
<polygon points="668.2,292.8 708.2,292.8 711.6,297.5 664.8,297.5" fill="#3b4150"/>
<path d="M666,295.2 H710.4" stroke="#8a90a0" stroke-width="0.5" stroke-dasharray="1.2 0.6"/>
<path d="M667.4,293.8 H709" stroke="#7a8090" stroke-width="0.5" stroke-dasharray="1.2 0.6"/>
<path d="M665.4,296.6 H676 M698,296.6 H711" stroke="#7a8090" stroke-width="0.5" stroke-dasharray="1.2 0.6"/>
<defs><linearGradient id="lbase" x1="0" y1="0" x2="0" y2="1"><stop offset="0" stop-color="#f6f6f6"/><stop offset="0.6" stop-color="#e2e2e2"/><stop offset="1" stop-color="#bdbdbd"/></linearGradient></defs>
<path d="M652,298.2 H724.4 V300.4 Q724.4,302.3 721,302.3 H655.4 Q652,302.3 652,300.4 Z" fill="url(#lbase)"/>
<rect x="681" y="298.2" width="14" height="1.4" rx="0.7" fill="#c9c9c9"/>
<rect x="660.4" y="256.4" width="55.4" height="35.8" rx="1.6" fill="#131313"/>
<rect x="662.6" y="258.4" width="51" height="31.6" fill="#1a1d21"/>
<rect x="664" y="259.6" width="1" height="28.6" fill="#6f8076"/>
<rect x="679.6" y="259.2" width="1.4" height="30" fill="#73857a"/>
<rect x="678" y="258.4" width="1.4" height="31.6" fill="#262a2f"/>
<rect x="668.4" y="260.4" width="4.6" height="0.8" fill="#1f86dd"/>
<rect x="670.9" y="261.8" width="3.8" height="0.8" fill="#1f86dd"/>
<rect x="672.0" y="263.1" width="6.3" height="0.8" fill="#1f86dd"/>
<rect x="670.1" y="264.5" width="3.4" height="0.8" fill="#1f86dd"/>
<rect x="668.9" y="265.8" width="5.7" height="0.8" fill="#1f86dd"/>
<rect x="668.5" y="267.2" width="4.8" height="0.8" fill="#1f86dd"/>
<rect x="668.2" y="268.5" width="3.3" height="0.8" fill="#1f86dd"/>
<rect x="670.7" y="269.9" width="5.5" height="0.8" fill="#1f86dd"/>
<rect x="673.1" y="271.2" width="3.2" height="0.8" fill="#1f86dd"/>
<rect x="672.8" y="272.6" width="5.2" height="0.8" fill="#1f86dd"/>
<rect x="672.3" y="273.9" width="3.3" height="0.8" fill="#1f86dd"/>
<rect x="671.1" y="275.3" width="3.5" height="0.8" fill="#1f86dd"/>
<rect x="669.2" y="276.6" width="5.1" height="0.8" fill="#1f86dd"/>
<rect x="670.5" y="278.0" width="7.1" height="0.8" fill="#1f86dd"/>
<rect x="673.0" y="279.3" width="3.6" height="0.8" fill="#1f86dd"/>
<rect x="673.9" y="280.7" width="4.1" height="0.8" fill="#1f86dd"/>
<rect x="675.0" y="282.0" width="6.1" height="0.8" fill="#1f86dd"/>
<rect x="674.5" y="283.4" width="7.7" height="0.8" fill="#1f86dd"/>
<rect x="671.9" y="284.7" width="5.9" height="0.8" fill="#1f86dd"/>
<rect x="671.5" y="286.1" width="5.0" height="0.8" fill="#1f86dd"/>
<rect x="672.7" y="287.4" width="7.9" height="0.8" fill="#1f86dd"/>
<rect x="673.8" y="288.8" width="3.2" height="0.8" fill="#1f86dd"/>
<rect x="682.6" y="260.2" width="6.0" height="0.85" fill="#1f86dd"/>
<rect x="686.6" y="261.6" width="14.0" height="0.85" fill="#e8e8e8"/>
<rect x="701.8" y="261.6" width="2.2" height="0.85" fill="#8ed62c"/>
<rect x="687.6" y="262.9" width="10.0" height="0.85" fill="#1f86dd"/>
<rect x="689.1" y="262.8" width="2" height="1" fill="#8ed62c"/>
<rect x="690.6" y="264.3" width="13.0" height="0.85" fill="#1f86dd"/>
<rect x="685.6" y="265.7" width="9.0" height="0.85" fill="#1f86dd"/>
<rect x="684.6" y="267.1" width="17.0" height="0.85" fill="#1f86dd"/>
<rect x="702.8" y="267.1" width="2.2" height="0.85" fill="#8ed62c"/>
<rect x="687.6" y="268.4" width="12.0" height="0.85" fill="#1f86dd"/>
<rect x="690.6" y="269.8" width="16.0" height="0.85" fill="#e8e8e8"/>
<rect x="707.8" y="269.8" width="2.2" height="0.85" fill="#8ed62c"/>
<rect x="692.1" y="269.7" width="2" height="1" fill="#8ed62c"/>
<rect x="688.6" y="271.2" width="20.0" height="0.85" fill="#1f86dd"/>
<rect x="686.6" y="272.5" width="12.0" height="0.85" fill="#1f86dd"/>
<rect x="699.8" y="272.5" width="2.2" height="0.85" fill="#8ed62c"/>
<rect x="689.6" y="273.9" width="16.0" height="0.85" fill="#1f86dd"/>
<rect x="691.6" y="275.3" width="12.0" height="0.85" fill="#e8e8e8"/>
<rect x="704.8" y="275.3" width="2.2" height="0.85" fill="#8ed62c"/>
<rect x="685.6" y="276.6" width="22.0" height="0.85" fill="#1f86dd"/>
<rect x="687.1" y="276.5" width="2" height="1" fill="#8ed62c"/>
<rect x="688.6" y="278.0" width="10.0" height="0.85" fill="#1f86dd"/>
<rect x="699.8" y="278.0" width="2.2" height="0.85" fill="#8ed62c"/>
<rect x="687.6" y="279.4" width="14.0" height="0.85" fill="#1f86dd"/>
<rect x="690.6" y="280.8" width="8.0" height="0.85" fill="#e8e8e8"/>
<rect x="699.8" y="280.8" width="2.2" height="0.85" fill="#8ed62c"/>
<rect x="686.6" y="282.1" width="18.0" height="0.85" fill="#1f86dd"/>
<rect x="689.6" y="283.5" width="14.0" height="0.85" fill="#1f86dd"/>
<rect x="704.8" y="283.5" width="2.2" height="0.85" fill="#8ed62c"/>
<rect x="691.1" y="283.4" width="2" height="1" fill="#8ed62c"/>
<rect x="691.6" y="284.9" width="14.0" height="0.85" fill="#e8e8e8"/>
<rect x="706.8" y="284.9" width="2.2" height="0.85" fill="#8ed62c"/>
<rect x="688.6" y="286.2" width="20.0" height="0.85" fill="#1f86dd"/>
<rect x="686.6" y="287.6" width="8.0" height="0.85" fill="#1f86dd"/>
<text x="659.2" y="341.1" font-size="9.8" font-weight="bold" fill="#111" textLength="57.9">Analyzation</text>
<path d="M750.2,270.2 L761.7,279.7 L750.2,289.2" stroke="#4064a8" stroke-width="5.2" fill="none" stroke-linecap="round" stroke-linejoin="round"/>
<path d="M763.7,270.2 L775.2,279.7 L763.7,289.2" stroke="#4064a8" stroke-width="5.2" fill="none" stroke-linecap="round" stroke-linejoin="round"/>
<path d="M777.2,270.2 L788.7,279.7 L777.2,289.2" stroke="#4064a8" stroke-width="5.2" fill="none" stroke-linecap="round" stroke-linejoin="round"/>
</g>
<!-- CHART1 -->
<g id="chart1">
<rect x="833.2" y="181.1" width="218.70000000000005" height="143.00000000000003" fill="#fff" stroke="#6a6a6a" stroke-width="1"/>
<line x1="833.2" y1="319.60" x2="836.7" y2="319.60" stroke="#6a6a6a" stroke-width="0.8"/>
<line x1="833.2" y1="314.80" x2="836.7" y2="314.80" stroke="#6a6a6a" stroke-width="0.8"/>
<line x1="833.2" y1="310.00" x2="836.7" y2="310.00" stroke="#6a6a6a" stroke-width="0.8"/>
<line x1="833.2" y1="305.20" x2="836.7" y2="305.20" stroke="#6a6a6a" stroke-width="0.8"/>
<line x1="833.2" y1="300.40" x2="839.7" y2="300.40" stroke="#6a6a6a" stroke-width="0.8"/>
<line x1="833.2" y1="295.60" x2="836.7" y2="295.60" stroke="#6a6a6a" stroke-width="0.8"/>
<line x1="833.2" y1="290.80" x2="836.7" y2="290.80" stroke="#6a6a6a" stroke-width="0.8"/>
<line x1="833.2" y1="286.00" x2="836.7" y2="286.00" stroke="#6a6a6a" stroke-width="0.8"/>
<line x1="833.2" y1="281.20" x2="836.7" y2="281.20" stroke="#6a6a6a" stroke-width="0.8"/>
<line x1="833.2" y1="276.40" x2="839.7" y2="276.40" stroke="#6a6a6a" stroke-width="0.8"/>
<line x1="833.2" y1="271.60" x2="836.7" y2="271.60" stroke="#6a6a6a" stroke-width="0.8"/>
<line x1="833.2" y1="266.80" x2="836.7" y2="266.80" stroke="#6a6a6a" stroke-width="0.8"/>
<line x1="833.2" y1="262.00" x2="836.7" y2="262.00" stroke="#6a6a6a" stroke-width="0.8"/>
<line x1="833.2" y1="257.20" x2="836.7" y2="257.20" stroke="#6a6a6a" stroke-width="0.8"/>
<line x1="833.2" y1="252.40" x2="839.7" y2="252.40" stroke="#6a6a6a" stroke-width="0.8"/>
<line x1="833.2" y1="247.60" x2="836.7" y2="247.60" stroke="#6a6a6a" stroke-width="0.8"/>
<line x1="833.2" y1="242.80" x2="836.7" y2="242.80" stroke="#6a6a6a" stroke-width="0.8"/>
<line x1="833.2" y1="238.00" x2="836.7" y2="238.00" stroke="#6a6a6a" stroke-width="0.8"/>
<line x1="833.2" y1="233.20" x2="836.7" y2="233.20" stroke="#6a6a6a" stroke-width="0.8"/>
<line x1="833.2" y1="228.40" x2="839.7" y2="228.40" stroke="#6a6a6a" stroke-width="0.8"/>
<line x1="833.2" y1="223.60" x2="836.7" y2="223.60" stroke="#6a6a6a" stroke-width="0.8"/>
<line x1="833.2" y1="218.80" x2="836.7" y2="218.80" stroke="#6a6a6a" stroke-width="0.8"/>
<line x1="833.2" y1="214.00" x2="836.7" y2="214.00" stroke="#6a6a6a" stroke-width="0.8"/>
<line x1="833.2" y1="209.20" x2="836.7" y2="209.20" stroke="#6a6a6a" stroke-width="0.8"/>
<line x1="833.2" y1="204.40" x2="839.7" y2="204.40" stroke="#6a6a6a" stroke-width="0.8"/>
<line x1="833.2" y1="199.60" x2="836.7" y2="199.60" stroke="#6a6a6a" stroke-width="0.8"/>
<line x1="833.2" y1="194.80" x2="836.7" y2="194.80" stroke="#6a6a6a" stroke-width="0.8"/>
<line x1="833.2" y1="190.00" x2="836.7" y2="190.00" stroke="#6a6a6a" stroke-width="0.8"/>
<line x1="833.2" y1="185.20" x2="836.7" y2="185.20" stroke="#6a6a6a" stroke-width="0.8"/>
<text transform="translate(831.6,304.5) scale(1.0,1.08)" font-size="10.6" font-weight="bold" fill="#050505" stroke="#050505" stroke-width="0.32" text-anchor="end" >1</text>
<text transform="translate(831.6,280.5) scale(1.0,1.08)" font-size="10.6" font-weight="bold" fill="#050505" stroke="#050505" stroke-width="0.32" text-anchor="end" >2</text>
<text transform="translate(831.6,256.5) scale(1.0,1.08)" font-size="10.6" font-weight="bold" fill="#050505" stroke="#050505" stroke-width="0.32" text-anchor="end" >3</text>
<text transform="translate(831.6,232.5) scale(1.0,1.08)" font-size="10.6" font-weight="bold" fill="#050505" stroke="#050505" stroke-width="0.32" text-anchor="end" >4</text>
<text transform="translate(831.6,208.5) scale(1.0,1.08)" font-size="10.6" font-weight="bold" fill="#050505" stroke="#050505" stroke-width="0.32" text-anchor="end" >5</text>
<line x1="844.05" y1="324.1" x2="844.05" y2="321.40000000000003" stroke="#6a6a6a" stroke-width="0.8"/>
<line x1="854.89" y1="324.1" x2="854.89" y2="321.40000000000003" stroke="#6a6a6a" stroke-width="0.8"/>
<line x1="865.74" y1="324.1" x2="865.74" y2="321.40000000000003" stroke="#6a6a6a" stroke-width="0.8"/>
<line x1="876.58" y1="324.1" x2="876.58" y2="321.40000000000003" stroke="#6a6a6a" stroke-width="0.8"/>
<line x1="887.43" y1="324.1" x2="887.43" y2="319.1" stroke="#6a6a6a" stroke-width="0.8"/>
<line x1="898.27" y1="324.1" x2="898.27" y2="321.40000000000003" stroke="#6a6a6a" stroke-width="0.8"/>
<line x1="909.12" y1="324.1" x2="909.12" y2="321.40000000000003" stroke="#6a6a6a" stroke-width="0.8"/>
<line x1="919.96" y1="324.1" x2="919.96" y2="321.40000000000003" stroke="#6a6a6a" stroke-width="0.8"/>
<line x1="930.81" y1="324.1" x2="930.81" y2="321.40000000000003" stroke="#6a6a6a" stroke-width="0.8"/>
<line x1="941.65" y1="324.1" x2="941.65" y2="319.1" stroke="#6a6a6a" stroke-width="0.8"/>
<line x1="952.50" y1="324.1" x2="952.50" y2="321.40000000000003" stroke="#6a6a6a" stroke-width="0.8"/>
<line x1="963.34" y1="324.1" x2="963.34" y2="321.40000000000003" stroke="#6a6a6a" stroke-width="0.8"/>
<line x1="974.19" y1="324.1" x2="974.19" y2="321.40000000000003" stroke="#6a6a6a" stroke-width="0.8"/>
<line x1="985.03" y1="324.1" x2="985.03" y2="321.40000000000003" stroke="#6a6a6a" stroke-width="0.8"/>
<line x1="995.88" y1="324.1" x2="995.88" y2="319.1" stroke="#6a6a6a" stroke-width="0.8"/>
<line x1="1006.72" y1="324.1" x2="1006.72" y2="321.40000000000003" stroke="#6a6a6a" stroke-width="0.8"/>
<line x1="1017.57" y1="324.1" x2="1017.57" y2="321.40000000000003" stroke="#6a6a6a" stroke-width="0.8"/>
<line x1="1028.41" y1="324.1" x2="1028.41" y2="321.40000000000003" stroke="#6a6a6a" stroke-width="0.8"/>
<line x1="1039.26" y1="324.1" x2="1039.26" y2="321.40000000000003" stroke="#6a6a6a" stroke-width="0.8"/>
<text transform="translate(833.2,335.2) scale(1.0,1.08)" font-size="10.6" font-weight="bold" fill="#050505" stroke="#050505" stroke-width="0.32" text-anchor="middle" >0</text>
<text transform="translate(887.43,335.2) scale(1.0,1.08)" font-size="10.6" font-weight="bold" fill="#050505" stroke="#050505" stroke-width="0.32" text-anchor="middle" >50</text>
<text transform="translate(941.65,335.2) scale(1.0,1.08)" font-size="10.6" font-weight="bold" fill="#050505" stroke="#050505" stroke-width="0.32" text-anchor="middle" >100</text>
<text transform="translate(995.88,335.2) scale(1.0,1.08)" font-size="10.6" font-weight="bold" fill="#050505" stroke="#050505" stroke-width="0.32" text-anchor="middle" >150</text>
<text transform="translate(1050.1,335.2) scale(1.0,1.08)" font-size="10.6" font-weight="bold" fill="#050505" stroke="#050505" stroke-width="0.32" text-anchor="middle" >200</text>
<text transform="translate(921.4,345.6) scale(1.0,1.08)" font-size="10.6" font-weight="bold" fill="#050505" stroke="#050505" stroke-width="0.32" textLength="41.8" lengthAdjust="spacingAndGlyphs" >q(MeV/c)</text>
<text transform="translate(822,269.5) rotate(-90) scale(1.0,1.08)" font-size="10.6" font-weight="bold" fill="#050505" stroke="#050505" stroke-width="0.32" textLength="33" lengthAdjust="spacingAndGlyphs" >1+R(q)</text>
<rect x="836.30" y="322.70" width="4" height="3.4" rx="1.3" fill="#111"/>
<rect x="839.12" y="310.70" width="4" height="3.4" rx="1.3" fill="#111"/>
<rect x="842.37" y="293.42" width="4" height="3.4" rx="1.3" fill="#111"/>
<rect x="845.30" y="254.78" width="4" height="3.4" rx="1.3" fill="#111"/>
<line x1="847.30" y1="253.08" x2="847.30" y2="259.88" stroke="#111" stroke-width="0.8"/>
<rect x="849.31" y="221.90" width="4" height="3.4" rx="1.3" fill="#111"/>
<rect x="852.13" y="269.18" width="4" height="3.4" rx="1.3" fill="#111"/>
<rect x="855.82" y="295.58" width="4" height="3.4" rx="1.3" fill="#111"/>
<rect x="859.40" y="304.25" width="4" height="3.4" rx="1.3" fill="#111"/>
<rect x="862.94" y="304.23" width="4" height="3.4" rx="1.3" fill="#111"/>
<rect x="866.49" y="303.24" width="4" height="3.4" rx="1.3" fill="#111"/>
<rect x="870.04" y="298.67" width="4" height="3.4" rx="1.3" fill="#111"/>
<rect x="873.58" y="294.40" width="4" height="3.4" rx="1.3" fill="#111"/>
<rect x="877.13" y="295.99" width="4" height="3.4" rx="1.3" fill="#111"/>
<rect x="880.67" y="298.81" width="4" height="3.4" rx="1.3" fill="#111"/>
<rect x="884.22" y="298.42" width="4" height="3.4" rx="1.3" fill="#111"/>
<rect x="887.77" y="300.87" width="4" height="3.4" rx="1.3" fill="#111"/>
<rect x="891.31" y="301.56" width="4" height="3.4" rx="1.3" fill="#111"/>
<rect x="894.86" y="299.76" width="4" height="3.4" rx="1.3" fill="#111"/>
<rect x="898.41" y="301.27" width="4" height="3.4" rx="1.3" fill="#111"/>
<rect x="901.95" y="299.95" width="4" height="3.4" rx="1.3" fill="#111"/>
<rect x="905.50" y="300.33" width="4" height="3.4" rx="1.3" fill="#111"/>
<rect x="909.05" y="299.07" width="4" height="3.4" rx="1.3" fill="#111"/>
<rect x="912.59" y="299.42" width="4" height="3.4" rx="1.3" fill="#111"/>
<rect x="916.14" y="296.95" width="4" height="3.4" rx="1.3" fill="#111"/>
<rect x="919.68" y="295.15" width="4" height="3.4" rx="1.3" fill="#111"/>
<rect x="923.23" y="294.96" width="4" height="3.4" rx="1.3" fill="#111"/>
<rect x="926.78" y="293.17" width="4" height="3.4" rx="1.3" fill="#111"/>
<rect x="930.32" y="292.49" width="4" height="3.4" rx="1.3" fill="#111"/>
<rect x="933.87" y="293.35" width="4" height="3.4" rx="1.3" fill="#111"/>
<rect x="937.42" y="290.76" width="4" height="3.4" rx="1.3" fill="#111"/>
<rect x="940.96" y="291.14" width="4" height="3.4" rx="1.3" fill="#111"/>
<rect x="944.51" y="292.41" width="4" height="3.4" rx="1.3" fill="#111"/>
<rect x="948.05" y="293.84" width="4" height="3.4" rx="1.3" fill="#111"/>
<rect x="951.60" y="292.13" width="4" height="3.4" rx="1.3" fill="#111"/>
<rect x="955.15" y="294.05" width="4" height="3.4" rx="1.3" fill="#111"/>
<rect x="958.69" y="294.12" width="4" height="3.4" rx="1.3" fill="#111"/>
<rect x="962.24" y="294.41" width="4" height="3.4" rx="1.3" fill="#111"/>
<rect x="965.79" y="295.51" width="4" height="3.4" rx="1.3" fill="#111"/>
<rect x="969.33" y="295.54" width="4" height="3.4" rx="1.3" fill="#111"/>
<rect x="972.88" y="297.62" width="4" height="3.4" rx="1.3" fill="#111"/>
<rect x="976.43" y="296.77" width="4" height="3.4" rx="1.3" fill="#111"/>
<rect x="979.97" y="298.11" width="4" height="3.4" rx="1.3" fill="#111"/>
<rect x="983.52" y="296.98" width="4" height="3.4" rx="1.3" fill="#111"/>
<rect x="987.06" y="297.22" width="4" height="3.4" rx="1.3" fill="#111"/>
<rect x="990.61" y="299.55" width="4" height="3.4" rx="1.3" fill="#111"/>
<rect x="994.16" y="299.51" width="4" height="3.4" rx="1.3" fill="#111"/>
<rect x="997.70" y="299.32" width="4" height="3.4" rx="1.3" fill="#111"/>
<rect x="1001.25" y="297.20" width="4" height="3.4" rx="1.3" fill="#111"/>
<rect x="1004.80" y="298.76" width="4" height="3.4" rx="1.3" fill="#111"/>
<rect x="1008.34" y="298.26" width="4" height="3.4" rx="1.3" fill="#111"/>
<rect x="1011.89" y="299.23" width="4" height="3.4" rx="1.3" fill="#111"/>
<rect x="1015.43" y="298.68" width="4" height="3.4" rx="1.3" fill="#111"/>
<rect x="1018.98" y="299.03" width="4" height="3.4" rx="1.3" fill="#111"/>
<rect x="1022.53" y="299.13" width="4" height="3.4" rx="1.3" fill="#111"/>
<rect x="1026.07" y="298.45" width="4" height="3.4" rx="1.3" fill="#111"/>
<rect x="1029.62" y="298.46" width="4" height="3.4" rx="1.3" fill="#111"/>
<rect x="1033.17" y="297.54" width="4" height="3.4" rx="1.3" fill="#111"/>
<rect x="1036.71" y="298.18" width="4" height="3.4" rx="1.3" fill="#111"/>
<rect x="1040.26" y="297.46" width="4" height="3.4" rx="1.3" fill="#111"/>
<rect x="1043.81" y="297.67" width="4" height="3.4" rx="1.3" fill="#111"/>
<rect x="1047.35" y="297.29" width="4" height="3.4" rx="1.3" fill="#111"/>
<path d="M833.20,324.40 C834.10,324.03 836.82,322.90 838.62,322.20 C840.43,321.50 842.24,320.84 844.05,320.20 C845.85,319.57 847.66,318.96 849.47,318.39 C851.28,317.81 853.08,317.26 854.89,316.74 C856.70,316.21 858.50,315.72 860.31,315.24 C862.12,314.76 863.93,314.31 865.74,313.88 C867.54,313.45 869.35,313.04 871.16,312.64 C872.97,312.25 874.77,311.88 876.58,311.52 C878.39,311.16 880.20,310.83 882.00,310.50 C883.81,310.18 885.62,309.87 887.43,309.58 C889.23,309.28 891.04,309.00 892.85,308.73 C894.66,308.47 896.46,308.21 898.27,307.97 C900.08,307.73 901.89,307.50 903.69,307.28 C905.50,307.06 907.31,306.85 909.12,306.65 C910.92,306.45 912.73,306.26 914.54,306.07 C916.35,305.89 918.15,305.72 919.96,305.55 C921.77,305.39 923.58,305.23 925.38,305.08 C927.19,304.93 929.00,304.79 930.81,304.65 C932.61,304.52 934.42,304.39 936.23,304.26 C938.04,304.14 939.84,304.02 941.65,303.91 C943.46,303.80 945.26,303.69 947.07,303.59 C948.88,303.48 950.69,303.39 952.50,303.29 C954.30,303.20 956.11,303.11 957.92,303.03 C959.73,302.94 961.53,302.86 963.34,302.79 C965.15,302.71 966.96,302.64 968.76,302.57 C970.57,302.50 972.38,302.43 974.19,302.37 C975.99,302.31 977.80,302.25 979.61,302.19 C981.42,302.13 983.22,302.08 985.03,302.03 C986.84,301.97 988.65,301.92 990.45,301.88 C992.26,301.83 994.07,301.78 995.88,301.74 C997.68,301.70 999.49,301.66 1001.30,301.62 C1003.11,301.58 1004.91,301.54 1006.72,301.51 C1008.53,301.47 1010.34,301.44 1012.14,301.40 C1013.95,301.37 1015.76,301.34 1017.57,301.31 C1019.37,301.28 1021.18,301.26 1022.99,301.23 C1024.80,301.20 1026.60,301.18 1028.41,301.15 C1030.22,301.13 1032.03,301.11 1033.83,301.08 C1035.64,301.06 1037.45,301.04 1039.26,301.02 C1041.06,301.00 1042.87,300.98 1044.68,300.96 C1046.49,300.95 1049.20,300.92 1050.10,300.91" stroke="#ff3030" stroke-width="1" fill="none"/>
<path d="M833.20,320.80 C833.92,320.40 836.27,319.40 837.54,318.40 C838.80,317.40 839.71,316.52 840.79,314.80 C841.88,313.08 843.14,310.40 844.05,308.08 C844.95,305.76 845.58,304.16 846.21,300.88 C846.85,297.60 847.33,294.88 847.84,288.40 C848.35,281.92 848.83,271.60 849.25,262.00 C849.67,252.40 849.97,240.00 850.34,230.80 C850.70,221.60 851.11,211.60 851.42,206.80 C851.73,202.00 851.93,202.00 852.18,202.00 C852.43,202.00 852.63,202.00 852.94,206.80 C853.25,211.60 853.66,221.60 854.02,230.80 C854.38,240.00 854.69,252.60 855.11,262.00 C855.52,271.40 856.01,281.00 856.52,287.20 C857.02,293.40 857.60,296.52 858.14,299.20 C858.69,301.88 859.23,302.28 859.77,303.28 C860.31,304.28 860.76,304.72 861.40,305.20 C862.03,305.68 862.66,306.04 863.57,306.16 C864.47,306.28 865.74,306.40 866.82,305.92 C867.90,305.44 868.81,304.68 870.07,303.28 C871.34,301.88 873.20,298.92 874.41,297.52 C875.62,296.12 876.35,294.88 877.34,294.88 C878.33,294.88 879.06,296.52 880.38,297.52 C881.70,298.52 883.36,300.08 885.26,300.88 C887.15,301.68 889.59,301.96 891.76,302.32 C893.93,302.68 896.10,303.00 898.27,303.04 C900.44,303.08 902.61,302.88 904.78,302.56 C906.95,302.24 908.75,301.80 911.28,301.12 C913.81,300.44 917.07,299.40 919.96,298.48 C922.85,297.56 925.74,296.44 928.64,295.60 C931.53,294.76 935.14,293.88 937.31,293.44 C939.48,293.00 940.20,292.96 941.65,292.96 C943.10,292.96 944.18,293.16 945.99,293.44 C947.80,293.72 949.60,294.04 952.50,294.64 C955.39,295.24 959.73,296.32 963.34,297.04 C966.96,297.76 970.57,298.48 974.19,298.96 C977.80,299.44 981.42,299.72 985.03,299.92 C988.65,300.12 990.45,300.08 995.88,300.16 C1001.30,300.24 1008.53,300.36 1017.57,300.40 C1026.60,300.44 1044.68,300.40 1050.10,300.40" stroke="#f318f0" stroke-width="2.05" fill="none" stroke-linejoin="round"/>
<path d="M835.37,323.92 C836.09,323.76 838.44,323.40 839.71,322.96 C840.97,322.52 842.06,322.04 842.96,321.28 C843.86,320.52 844.41,320.28 845.13,318.40 C845.85,316.52 846.67,314.20 847.30,310.00 C847.93,305.80 848.46,300.80 848.93,293.20 C849.40,285.60 849.74,275.20 850.12,264.40 C850.50,253.60 850.86,237.40 851.20,228.40 C851.55,219.40 851.85,210.40 852.18,210.40 C852.50,210.40 852.81,219.40 853.15,228.40 C853.50,237.40 853.86,253.60 854.24,264.40 C854.62,275.20 854.96,285.80 855.43,293.20 C855.90,300.60 856.43,304.92 857.06,308.80 C857.69,312.68 858.51,314.60 859.23,316.48 C859.95,318.36 860.67,319.24 861.40,320.08 C862.12,320.92 862.84,321.48 863.57,321.52 C864.29,321.56 864.83,321.00 865.74,320.32 C866.64,319.64 867.90,318.48 868.99,317.44 C870.07,316.40 871.16,315.08 872.24,314.08 C873.33,313.08 874.65,312.00 875.50,311.44 C876.35,310.88 876.71,310.72 877.34,310.72 C877.97,310.72 878.33,310.68 879.29,311.44 C880.25,312.20 881.73,314.00 883.09,315.28 C884.44,316.56 886.09,318.12 887.43,319.12 C888.76,320.12 890.50,320.92 891.11,321.28" stroke="#3a3aff" stroke-width="1.1" fill="none"/>
<path d="M908.03,320.56 C909.30,320.20 912.91,319.16 915.62,318.40 C918.33,317.64 921.77,316.64 924.30,316.00 C926.83,315.36 928.64,314.92 930.81,314.56 C932.97,314.20 935.14,313.88 937.31,313.84 C939.48,313.80 941.29,313.84 943.82,314.32 C946.35,314.80 949.24,315.76 952.50,316.72 C955.75,317.68 959.62,319.20 963.34,320.08 C967.06,320.96 972.92,321.68 974.84,322.00" stroke="#3a3aff" stroke-width="1.1" fill="none"/>
<text transform="translate(869.2,199.7) scale(1.0,1.0)" font-size="12" font-weight="bold" fill="#505050" stroke="#505050" stroke-width="0.15" textLength="80.3" lengthAdjust="spacingAndGlyphs" style="font-family:'Liberation Serif',serif" ><tspan font-size="7" dy="-4.6">8</tspan><tspan dy="4.6">Be ground state</tspan></text>
<text transform="translate(867.3,259.8) scale(1.0,1.0)" font-size="12" font-weight="bold" fill="#505050" stroke="#505050" stroke-width="0.15" textLength="77.5" lengthAdjust="spacingAndGlyphs" style="font-family:'Liberation Serif',serif" ><tspan font-size="7" dy="-4.6">9</tspan><tspan dy="4.6">Be* (2.43MeV)</tspan></text>
<text transform="translate(927,277.1) scale(1.0,1.0)" font-size="12" font-weight="bold" fill="#505050" stroke="#505050" stroke-width="0.15" textLength="77.2" lengthAdjust="spacingAndGlyphs" style="font-family:'Liberation Serif',serif" ><tspan font-size="7" dy="-4.6">8</tspan><tspan dy="4.6">Be* (3.04MeV)</tspan></text>
<text transform="translate(992.4,207.6) scale(1.0,1.0)" font-size="14.5" font-weight="bold" fill="#1a1a1a" stroke="#1a1a1a" stroke-width="0.32" textLength="21.2" lengthAdjust="spacingAndGlyphs" >α-α</text>
<path d="M864.5,195.6 L857.5,198.8" stroke="#f02020" stroke-width="0.9" stroke-dasharray="2.4 1.2" fill="none"/><polygon points="855.2,199.9 859,196.8 859.9,199.3" fill="#f02020"/>
<path d="M877.3,264.2 V287" stroke="#f02020" stroke-width="0.9" stroke-dasharray="2.2 1.1" fill="none"/><polygon points="877.3,291.4 875.5,286.4 879.1,286.4" fill="#f02020"/>
<path d="M938.1,278.3 V285" stroke="#f02020" stroke-width="0.9" stroke-dasharray="2.2 1.1" fill="none"/><polygon points="938.1,289.3 936.3,284.5 939.9,284.5" fill="#f02020"/>
</g>
<!-- CHART2 -->
<g id="chart2">
<rect x="789.6" y="372.2" width="86.39999999999998" height="126.10000000000002" fill="#fff"/>
<rect x="827.9" y="372.2" width="9.700000000000045" height="126.10000000000002" fill="#c3fac3"/>
<rect x="789.6" y="404.1" width="86.39999999999998" height="9.6" fill="#c3fac3"/>
<rect x="789.6" y="372.2" width="86.39999999999998" height="126.10000000000002" fill="none" stroke="#2e2e2e" stroke-width="1"/>
<line x1="789.6" y1="493.90" x2="791.7" y2="493.90" stroke="#2e2e2e" stroke-width="0.7"/>
<line x1="789.6" y1="488.60" x2="793.2" y2="488.60" stroke="#2e2e2e" stroke-width="0.7"/>
<line x1="789.6" y1="483.30" x2="791.7" y2="483.30" stroke="#2e2e2e" stroke-width="0.7"/>
<line x1="789.6" y1="478.00" x2="791.7" y2="478.00" stroke="#2e2e2e" stroke-width="0.7"/>
<line x1="789.6" y1="472.70" x2="791.7" y2="472.70" stroke="#2e2e2e" stroke-width="0.7"/>
<line x1="789.6" y1="467.40" x2="791.7" y2="467.40" stroke="#2e2e2e" stroke-width="0.7"/>
<line x1="789.6" y1="462.10" x2="793.2" y2="462.10" stroke="#2e2e2e" stroke-width="0.7"/>
<line x1="789.6" y1="456.80" x2="791.7" y2="456.80" stroke="#2e2e2e" stroke-width="0.7"/>
<line x1="789.6" y1="451.50" x2="791.7" y2="451.50" stroke="#2e2e2e" stroke-width="0.7"/>
<line x1="789.6" y1="446.20" x2="791.7" y2="446.20" stroke="#2e2e2e" stroke-width="0.7"/>
<line x1="789.6" y1="440.90" x2="791.7" y2="440.90" stroke="#2e2e2e" stroke-width="0.7"/>
<line x1="789.6" y1="435.60" x2="793.2" y2="435.60" stroke="#2e2e2e" stroke-width="0.7"/>
<line x1="789.6" y1="430.30" x2="791.7" y2="430.30" stroke="#2e2e2e" stroke-width="0.7"/>
<line x1="789.6" y1="425.00" x2="791.7" y2="425.00" stroke="#2e2e2e" stroke-width="0.7"/>
<line x1="789.6" y1="419.70" x2="791.7" y2="419.70" stroke="#2e2e2e" stroke-width="0.7"/>
<line x1="789.6" y1="414.40" x2="791.7" y2="414.40" stroke="#2e2e2e" stroke-width="0.7"/>
<line x1="789.6" y1="409.10" x2="793.2" y2="409.10" stroke="#2e2e2e" stroke-width="0.7"/>
<line x1="789.6" y1="403.80" x2="791.7" y2="403.80" stroke="#2e2e2e" stroke-width="0.7"/>
<line x1="789.6" y1="398.50" x2="791.7" y2="398.50" stroke="#2e2e2e" stroke-width="0.7"/>
<line x1="789.6" y1="393.20" x2="791.7" y2="393.20" stroke="#2e2e2e" stroke-width="0.7"/>
<line x1="789.6" y1="387.90" x2="791.7" y2="387.90" stroke="#2e2e2e" stroke-width="0.7"/>
<line x1="789.6" y1="382.60" x2="793.2" y2="382.60" stroke="#2e2e2e" stroke-width="0.7"/>
<line x1="789.6" y1="377.30" x2="791.7" y2="377.30" stroke="#2e2e2e" stroke-width="0.7"/>
<line x1="791.40" y1="498.3" x2="791.40" y2="496.1" stroke="#2e2e2e" stroke-width="0.7"/>
<line x1="798.30" y1="498.3" x2="798.30" y2="494.5" stroke="#2e2e2e" stroke-width="0.7"/>
<line x1="805.20" y1="498.3" x2="805.20" y2="496.1" stroke="#2e2e2e" stroke-width="0.7"/>
<line x1="812.10" y1="498.3" x2="812.10" y2="496.1" stroke="#2e2e2e" stroke-width="0.7"/>
<line x1="819.00" y1="498.3" x2="819.00" y2="496.1" stroke="#2e2e2e" stroke-width="0.7"/>
<line x1="825.90" y1="498.3" x2="825.90" y2="496.1" stroke="#2e2e2e" stroke-width="0.7"/>
<line x1="832.80" y1="498.3" x2="832.80" y2="494.5" stroke="#2e2e2e" stroke-width="0.7"/>
<line x1="839.70" y1="498.3" x2="839.70" y2="496.1" stroke="#2e2e2e" stroke-width="0.7"/>
<line x1="846.60" y1="498.3" x2="846.60" y2="496.1" stroke="#2e2e2e" stroke-width="0.7"/>
<line x1="853.50" y1="498.3" x2="853.50" y2="496.1" stroke="#2e2e2e" stroke-width="0.7"/>
<line x1="860.40" y1="498.3" x2="860.40" y2="496.1" stroke="#2e2e2e" stroke-width="0.7"/>
<line x1="867.30" y1="498.3" x2="867.30" y2="494.5" stroke="#2e2e2e" stroke-width="0.7"/>
<line x1="874.20" y1="498.3" x2="874.20" y2="496.1" stroke="#2e2e2e" stroke-width="0.7"/>
<text transform="translate(798.3,509.8) scale(1.0,1.0)" font-size="9.3" font-weight="bold" fill="#050505" stroke="#050505" stroke-width="0.32" text-anchor="middle" >0.01</text>
<text transform="translate(832.8,509.8) scale(1.0,1.0)" font-size="9.3" font-weight="bold" fill="#050505" stroke="#050505" stroke-width="0.32" text-anchor="middle" >0.02</text>
<text transform="translate(867.3,509.8) scale(1.0,1.0)" font-size="9.3" font-weight="bold" fill="#050505" stroke="#050505" stroke-width="0.32" text-anchor="middle" >0.02</text>
<text transform="translate(792.8,383.1) scale(1.0,1.06)" font-size="8.8" font-weight="bold" fill="#050505" stroke="#050505" stroke-width="0.32" >[a]</text>
<rect x="879.1" y="372.2" width="86.39999999999998" height="126.10000000000002" fill="#fff"/>
<rect x="917.4" y="372.2" width="9.399999999999977" height="126.10000000000002" fill="#c3fac3"/>
<rect x="879.1" y="404.1" width="86.39999999999998" height="9.6" fill="#c3fac3"/>
<rect x="879.1" y="372.2" width="86.39999999999998" height="126.10000000000002" fill="none" stroke="#2e2e2e" stroke-width="1"/>
<line x1="879.1" y1="493.90" x2="881.2" y2="493.90" stroke="#2e2e2e" stroke-width="0.7"/>
<line x1="879.1" y1="488.60" x2="882.7" y2="488.60" stroke="#2e2e2e" stroke-width="0.7"/>
<line x1="879.1" y1="483.30" x2="881.2" y2="483.30" stroke="#2e2e2e" stroke-width="0.7"/>
<line x1="879.1" y1="478.00" x2="881.2" y2="478.00" stroke="#2e2e2e" stroke-width="0.7"/>
<line x1="879.1" y1="472.70" x2="881.2" y2="472.70" stroke="#2e2e2e" stroke-width="0.7"/>
<line x1="879.1" y1="467.40" x2="881.2" y2="467.40" stroke="#2e2e2e" stroke-width="0.7"/>
<line x1="879.1" y1="462.10" x2="882.7" y2="462.10" stroke="#2e2e2e" stroke-width="0.7"/>
<line x1="879.1" y1="456.80" x2="881.2" y2="456.80" stroke="#2e2e2e" stroke-width="0.7"/>
<line x1="879.1" y1="451.50" x2="881.2" y2="451.50" stroke="#2e2e2e" stroke-width="0.7"/>
<line x1="879.1" y1="446.20" x2="881.2" y2="446.20" stroke="#2e2e2e" stroke-width="0.7"/>
<line x1="879.1" y1="440.90" x2="881.2" y2="440.90" stroke="#2e2e2e" stroke-width="0.7"/>
<line x1="879.1" y1="435.60" x2="882.7" y2="435.60" stroke="#2e2e2e" stroke-width="0.7"/>
<line x1="879.1" y1="430.30" x2="881.2" y2="430.30" stroke="#2e2e2e" stroke-width="0.7"/>
<line x1="879.1" y1="425.00" x2="881.2" y2="425.00" stroke="#2e2e2e" stroke-width="0.7"/>
<line x1="879.1" y1="419.70" x2="881.2" y2="419.70" stroke="#2e2e2e" stroke-width="0.7"/>
<line x1="879.1" y1="414.40" x2="881.2" y2="414.40" stroke="#2e2e2e" stroke-width="0.7"/>
<line x1="879.1" y1="409.10" x2="882.7" y2="409.10" stroke="#2e2e2e" stroke-width="0.7"/>
<line x1="879.1" y1="403.80" x2="881.2" y2="403.80" stroke="#2e2e2e" stroke-width="0.7"/>
<line x1="879.1" y1="398.50" x2="881.2" y2="398.50" stroke="#2e2e2e" stroke-width="0.7"/>
<line x1="879.1" y1="393.20" x2="881.2" y2="393.20" stroke="#2e2e2e" stroke-width="0.7"/>
<line x1="879.1" y1="387.90" x2="881.2" y2="387.90" stroke="#2e2e2e" stroke-width="0.7"/>
<line x1="879.1" y1="382.60" x2="882.7" y2="382.60" stroke="#2e2e2e" stroke-width="0.7"/>
<line x1="879.1" y1="377.30" x2="881.2" y2="377.30" stroke="#2e2e2e" stroke-width="0.7"/>
<line x1="880.80" y1="498.3" x2="880.80" y2="496.1" stroke="#2e2e2e" stroke-width="0.7"/>
<line x1="887.70" y1="498.3" x2="887.70" y2="494.5" stroke="#2e2e2e" stroke-width="0.7"/>
<line x1="894.60" y1="498.3" x2="894.60" y2="496.1" stroke="#2e2e2e" stroke-width="0.7"/>
<line x1="901.50" y1="498.3" x2="901.50" y2="496.1" stroke="#2e2e2e" stroke-width="0.7"/>
<line x1="908.40" y1="498.3" x2="908.40" y2="496.1" stroke="#2e2e2e" stroke-width="0.7"/>
<line x1="915.30" y1="498.3" x2="915.30" y2="496.1" stroke="#2e2e2e" stroke-width="0.7"/>
<line x1="922.20" y1="498.3" x2="922.20" y2="494.5" stroke="#2e2e2e" stroke-width="0.7"/>
<line x1="929.10" y1="498.3" x2="929.10" y2="496.1" stroke="#2e2e2e" stroke-width="0.7"/>
<line x1="936.00" y1="498.3" x2="936.00" y2="496.1" stroke="#2e2e2e" stroke-width="0.7"/>
<line x1="942.90" y1="498.3" x2="942.90" y2="496.1" stroke="#2e2e2e" stroke-width="0.7"/>
<line x1="949.80" y1="498.3" x2="949.80" y2="496.1" stroke="#2e2e2e" stroke-width="0.7"/>
<line x1="956.70" y1="498.3" x2="956.70" y2="494.5" stroke="#2e2e2e" stroke-width="0.7"/>
<line x1="963.60" y1="498.3" x2="963.60" y2="496.1" stroke="#2e2e2e" stroke-width="0.7"/>
<text transform="translate(887.7,509.8) scale(1.0,1.0)" font-size="9.3" font-weight="bold" fill="#050505" stroke="#050505" stroke-width="0.32" text-anchor="middle" >0.01</text>
<text transform="translate(922.2,509.8) scale(1.0,1.0)" font-size="9.3" font-weight="bold" fill="#050505" stroke="#050505" stroke-width="0.32" text-anchor="middle" >0.02</text>
<text transform="translate(956.7,509.8) scale(1.0,1.0)" font-size="9.3" font-weight="bold" fill="#050505" stroke="#050505" stroke-width="0.32" text-anchor="middle" >0.02</text>
<text transform="translate(882.3,383.1) scale(1.0,1.06)" font-size="8.8" font-weight="bold" fill="#050505" stroke="#050505" stroke-width="0.32" >[b]</text>
<rect x="968.8" y="372.2" width="86.70000000000005" height="126.10000000000002" fill="#fff"/>
<rect x="1006.4" y="372.2" width="10.600000000000023" height="126.10000000000002" fill="#c3fac3"/>
<rect x="968.8" y="404.1" width="86.70000000000005" height="9.6" fill="#c3fac3"/>
<rect x="968.8" y="372.2" width="86.70000000000005" height="126.10000000000002" fill="none" stroke="#2e2e2e" stroke-width="1"/>
<line x1="968.8" y1="493.90" x2="970.9" y2="493.90" stroke="#2e2e2e" stroke-width="0.7"/>
<line x1="968.8" y1="488.60" x2="972.4" y2="488.60" stroke="#2e2e2e" stroke-width="0.7"/>
<line x1="968.8" y1="483.30" x2="970.9" y2="483.30" stroke="#2e2e2e" stroke-width="0.7"/>
<line x1="968.8" y1="478.00" x2="970.9" y2="478.00" stroke="#2e2e2e" stroke-width="0.7"/>
<line x1="968.8" y1="472.70" x2="970.9" y2="472.70" stroke="#2e2e2e" stroke-width="0.7"/>
<line x1="968.8" y1="467.40" x2="970.9" y2="467.40" stroke="#2e2e2e" stroke-width="0.7"/>
<line x1="968.8" y1="462.10" x2="972.4" y2="462.10" stroke="#2e2e2e" stroke-width="0.7"/>
<line x1="968.8" y1="456.80" x2="970.9" y2="456.80" stroke="#2e2e2e" stroke-width="0.7"/>
<line x1="968.8" y1="451.50" x2="970.9" y2="451.50" stroke="#2e2e2e" stroke-width="0.7"/>
<line x1="968.8" y1="446.20" x2="970.9" y2="446.20" stroke="#2e2e2e" stroke-width="0.7"/>
<line x1="968.8" y1="440.90" x2="970.9" y2="440.90" stroke="#2e2e2e" stroke-width="0.7"/>
<line x1="968.8" y1="435.60" x2="972.4" y2="435.60" stroke="#2e2e2e" stroke-width="0.7"/>
<line x1="968.8" y1="430.30" x2="970.9" y2="430.30" stroke="#2e2e2e" stroke-width="0.7"/>
<line x1="968.8" y1="425.00" x2="970.9" y2="425.00" stroke="#2e2e2e" stroke-width="0.7"/>
<line x1="968.8" y1="419.70" x2="970.9" y2="419.70" stroke="#2e2e2e" stroke-width="0.7"/>
<line x1="968.8" y1="414.40" x2="970.9" y2="414.40" stroke="#2e2e2e" stroke-width="0.7"/>
<line x1="968.8" y1="409.10" x2="972.4" y2="409.10" stroke="#2e2e2e" stroke-width="0.7"/>
<line x1="968.8" y1="403.80" x2="970.9" y2="403.80" stroke="#2e2e2e" stroke-width="0.7"/>
<line x1="968.8" y1="398.50" x2="970.9" y2="398.50" stroke="#2e2e2e" stroke-width="0.7"/>
<line x1="968.8" y1="393.20" x2="970.9" y2="393.20" stroke="#2e2e2e" stroke-width="0.7"/>
<line x1="968.8" y1="387.90" x2="970.9" y2="387.90" stroke="#2e2e2e" stroke-width="0.7"/>
<line x1="968.8" y1="382.60" x2="972.4" y2="382.60" stroke="#2e2e2e" stroke-width="0.7"/>
<line x1="968.8" y1="377.30" x2="970.9" y2="377.30" stroke="#2e2e2e" stroke-width="0.7"/>
<line x1="970.10" y1="498.3" x2="970.10" y2="496.1" stroke="#2e2e2e" stroke-width="0.7"/>
<line x1="977.00" y1="498.3" x2="977.00" y2="494.5" stroke="#2e2e2e" stroke-width="0.7"/>
<line x1="983.90" y1="498.3" x2="983.90" y2="496.1" stroke="#2e2e2e" stroke-width="0.7"/>
<line x1="990.80" y1="498.3" x2="990.80" y2="496.1" stroke="#2e2e2e" stroke-width="0.7"/>
<line x1="997.70" y1="498.3" x2="997.70" y2="496.1" stroke="#2e2e2e" stroke-width="0.7"/>
<line x1="1004.60" y1="498.3" x2="1004.60" y2="496.1" stroke="#2e2e2e" stroke-width="0.7"/>
<line x1="1011.50" y1="498.3" x2="1011.50" y2="494.5" stroke="#2e2e2e" stroke-width="0.7"/>
<line x1="1018.40" y1="498.3" x2="1018.40" y2="496.1" stroke="#2e2e2e" stroke-width="0.7"/>
<line x1="1025.30" y1="498.3" x2="1025.30" y2="496.1" stroke="#2e2e2e" stroke-width="0.7"/>
<line x1="1032.20" y1="498.3" x2="1032.20" y2="496.1" stroke="#2e2e2e" stroke-width="0.7"/>
<line x1="1039.10" y1="498.3" x2="1039.10" y2="496.1" stroke="#2e2e2e" stroke-width="0.7"/>
<line x1="1046.00" y1="498.3" x2="1046.00" y2="494.5" stroke="#2e2e2e" stroke-width="0.7"/>
<line x1="1052.90" y1="498.3" x2="1052.90" y2="496.1" stroke="#2e2e2e" stroke-width="0.7"/>
<text transform="translate(977.0,509.8) scale(1.0,1.0)" font-size="9.3" font-weight="bold" fill="#050505" stroke="#050505" stroke-width="0.32" text-anchor="middle" >0.01</text>
<text transform="translate(1011.5,509.8) scale(1.0,1.0)" font-size="9.3" font-weight="bold" fill="#050505" stroke="#050505" stroke-width="0.32" text-anchor="middle" >0.02</text>
<text transform="translate(1046.0,509.8) scale(1.0,1.0)" font-size="9.3" font-weight="bold" fill="#050505" stroke="#050505" stroke-width="0.32" text-anchor="middle" >0.02</text>
<text transform="translate(972.0,383.1) scale(1.0,1.06)" font-size="8.8" font-weight="bold" fill="#050505" stroke="#050505" stroke-width="0.32" >[c]</text>
<text transform="translate(784.4,385.75) scale(1.0,1.0)" font-size="9.1" font-weight="bold" fill="#050505" stroke="#050505" stroke-width="0.32" text-anchor="end" >0.012</text>
<text transform="translate(784.4,412.25) scale(1.0,1.0)" font-size="9.1" font-weight="bold" fill="#050505" stroke="#050505" stroke-width="0.32" text-anchor="end" >0.011</text>
<text transform="translate(784.4,438.75) scale(1.0,1.0)" font-size="9.1" font-weight="bold" fill="#050505" stroke="#050505" stroke-width="0.32" text-anchor="end" >0.01</text>
<text transform="translate(784.4,465.25) scale(1.0,1.0)" font-size="9.1" font-weight="bold" fill="#050505" stroke="#050505" stroke-width="0.32" text-anchor="end" >0.009</text>
<text transform="translate(784.4,491.75) scale(1.0,1.0)" font-size="9.1" font-weight="bold" fill="#050505" stroke="#050505" stroke-width="0.32" text-anchor="end" >0.008</text>
<path d="M808,384.2 Q841.60,402.65 868,449.7" stroke="#1818ee" stroke-width="1.9" stroke-dasharray="2.1 1.3" fill="none"/>
<path d="M846.3,385.5 Q857.65,396.75 867.6,411" stroke="#4444f2" stroke-width="0.8" fill="none"/>
<path d="M798.1,426.3 Q832.10,444.70 855.7,486.3" stroke="#4444f2" stroke-width="0.8" fill="none"/>
<path d="M797.6,465.3 Q813.45,473.00 822.7,486.3" stroke="#4444f2" stroke-width="0.8" fill="none"/>
<text transform="translate(852.5,389.7) scale(1.0,1.05)" font-size="5.9" font-weight="bold" fill="#0a0a0a" stroke="#0a0a0a" stroke-width="0.32" >0.095</text>
<text transform="translate(840.8,408.8) scale(1.0,1.05)" font-size="5.9" font-weight="bold" fill="#0a0a0a" stroke="#0a0a0a" stroke-width="0.32" >0.087</text>
<text transform="translate(834,452.3) scale(1.0,1.05)" font-size="5.9" font-weight="bold" fill="#0a0a0a" stroke="#0a0a0a" stroke-width="0.32" >0.075</text>
<text transform="translate(817.4,476.5) scale(1.0,1.05)" font-size="5.9" font-weight="bold" fill="#0a0a0a" stroke="#0a0a0a" stroke-width="0.32" >0.065</text>
<path d="M902.5,384.2 Q929.10,433.70 937.7,486" stroke="#1818ee" stroke-width="1.9" stroke-dasharray="2.1 1.3" fill="none"/>
<path d="M887.4,402.3 Q913.30,443.70 922.4,485.1" stroke="#4444f2" stroke-width="0.8" fill="none"/>
<path d="M926.1,384.2 Q943.55,434.90 953.6,485.6" stroke="#4444f2" stroke-width="0.8" fill="none"/>
<path d="M887.4,449.2 Q898.90,466.65 904,484.1" stroke="#4444f2" stroke-width="0.8" fill="none"/>
<text transform="translate(906.9,388) scale(1.0,1.05)" font-size="5.9" font-weight="bold" fill="#0a0a0a" stroke="#0a0a0a" stroke-width="0.32" >0.084</text>
<text transform="translate(894.9,410.7) scale(1.0,1.05)" font-size="5.9" font-weight="bold" fill="#0a0a0a" stroke="#0a0a0a" stroke-width="0.32" >0.075</text>
<text transform="translate(937.5,410.7) scale(1.0,1.05)" font-size="5.9" font-weight="bold" fill="#0a0a0a" stroke="#0a0a0a" stroke-width="0.32" >0.095</text>
<text transform="translate(892.7,453.6) scale(1.0,1.05)" font-size="5.9" font-weight="bold" fill="#0a0a0a" stroke="#0a0a0a" stroke-width="0.32" >0.065</text>
<path d="M1006.4,384.3 Q1019.60,434.55 1025.2,484.8" stroke="#1818ee" stroke-width="1.9" stroke-dasharray="2.1 1.3" fill="none"/>
<path d="M984.3,384.2 Q1004.45,433.80 1008.8,483.4" stroke="#4444f2" stroke-width="0.8" fill="none"/>
<path d="M976.3,418.2 Q990.70,451.15 995.1,484.1" stroke="#4444f2" stroke-width="0.8" fill="none"/>
<path d="M1030.2,384.3 Q1039.30,430.45 1044.8,476.6" stroke="#4444f2" stroke-width="0.8" fill="none"/>
<text transform="translate(994.7,410.7) scale(1.0,1.05)" font-size="5.9" font-weight="bold" fill="#0a0a0a" stroke="#0a0a0a" stroke-width="0.32" >0.08</text>
<text transform="translate(977.8,420.8) scale(1.0,1.05)" font-size="5.9" font-weight="bold" fill="#0a0a0a" stroke="#0a0a0a" stroke-width="0.32" >0.007</text>
<text transform="translate(1015.8,410.7) scale(1.0,1.05)" font-size="5.9" font-weight="bold" fill="#0a0a0a" stroke="#0a0a0a" stroke-width="0.32" >0.094</text>
<text transform="translate(1036.4,404) scale(1.0,1.05)" font-size="5.9" font-weight="bold" fill="#0a0a0a" stroke="#0a0a0a" stroke-width="0.32" >0.11</text>
<text transform="translate(915.6,525) scale(1.0,1.0)" font-size="13.2" font-weight="bold" fill="#050505" stroke="#050505" stroke-width="0.32" >σ<tspan dy="4.1" dx="0.6">E</tspan></text>
<text transform="translate(748.2,449) rotate(-90) scale(1.0,1.0)" font-size="13" font-weight="bold" fill="#050505" stroke="#050505" stroke-width="0.32" id="sde">σ<tspan dy="3.7" dx="0.5" font-size="12.2" font-weight="normal" stroke-width="0.1">Δ</tspan><tspan font-size="12.2">E</tspan></text>
</g>
<!-- CHARTC -->
<defs>
<linearGradient id="parula" x1="0" y1="1" x2="0" y2="0">
<stop offset="0" stop-color="#2a2f9c"/><stop offset="0.12" stop-color="#1f52bf"/><stop offset="0.25" stop-color="#1479d0"/><stop offset="0.36" stop-color="#0e9ac6"/><stop offset="0.48" stop-color="#34b2a0"/><stop offset="0.6" stop-color="#86bd78"/><stop offset="0.72" stop-color="#d3ba56"/><stop offset="0.82" stop-color="#f7c335"/><stop offset="0.92" stop-color="#f8e51c"/><stop offset="1" stop-color="#f9fb0e"/>
</linearGradient>
<radialGradient id="ppacg" cx="0.5" cy="0.5" r="0.5">
<stop offset="0" stop-color="#f5b92e"/><stop offset="0.12" stop-color="#ecb937"/><stop offset="0.3" stop-color="#a9bd66"/><stop offset="0.45" stop-color="#56b590"/><stop offset="0.6" stop-color="#1a9bc4"/><stop offset="0.78" stop-color="#1671cf"/><stop offset="0.92" stop-color="#2247b3"/><stop offset="1" stop-color="#2a35a0"/>
</radialGradient>
<linearGradient id="ssd1g" gradientUnits="userSpaceOnUse" x1="250" y1="428" x2="205" y2="476">
<stop offset="0" stop-color="#1d2596"/><stop offset="0.35" stop-color="#1e3aa8"/><stop offset="0.7" stop-color="#1d55bd"/><stop offset="1" stop-color="#1c62c6"/>
</linearGradient>
<linearGradient id="ssd2g" gradientUnits="userSpaceOnUse" x1="215" y1="486" x2="205" y2="524">
<stop offset="0" stop-color="#1a2f9e"/><stop offset="0.25" stop-color="#1851b8"/><stop offset="0.5" stop-color="#1580c4"/><stop offset="0.75" stop-color="#129fba"/><stop offset="1" stop-color="#16a8b0"/>
</linearGradient>
<radialGradient id="wspot"><stop offset="0" stop-color="#fff" stop-opacity="1"/><stop offset="0.35" stop-color="#fff" stop-opacity="0.75"/><stop offset="1" stop-color="#fff" stop-opacity="0"/></radialGradient>
<radialGradient id="yspot"><stop offset="0" stop-color="#f4f41a" stop-opacity="1"/><stop offset="0.4" stop-color="#d8ee20" stop-opacity="0.85"/><stop offset="1" stop-color="#9ad84a" stop-opacity="0"/></radialGradient>
<clipPath id="ssd2clip"><path d="M135.2,507.2 Q162,494 185.8,484.3 Q220,492.5 255.9,494.8 Q250,509 240.7,521.9 Q215,525.5 180,518.3 Q155,512.5 135.2,507.2 Z"/></clipPath>
<clipPath id="ssd1clip"><path d="M203.9,424.9 Q236,431.5 264.2,434 Q263,455 261,475.5 Q222,475 183.2,463.9 Q195,446 203.9,424.9 Z"/></clipPath>
</defs>
<g id="chartc">
<path d="M95.4,412.3 H280.2 M95.4,412.3 V538.3 H280.2" stroke="#4d4d4d" stroke-width="1" fill="none"/>
<line x1="95.4" y1="535.26" x2="97.60000000000001" y2="535.26" stroke="#4d4d4d" stroke-width="0.8"/>
<line x1="95.4" y1="531.02" x2="97.60000000000001" y2="531.02" stroke="#4d4d4d" stroke-width="0.8"/>
<line x1="95.4" y1="526.78" x2="97.60000000000001" y2="526.78" stroke="#4d4d4d" stroke-width="0.8"/>
<line x1="95.4" y1="522.54" x2="97.60000000000001" y2="522.54" stroke="#4d4d4d" stroke-width="0.8"/>
<line x1="95.4" y1="518.30" x2="99.2" y2="518.30" stroke="#4d4d4d" stroke-width="0.8"/>
<line x1="95.4" y1="514.06" x2="97.60000000000001" y2="514.06" stroke="#4d4d4d" stroke-width="0.8"/>
<line x1="95.4" y1="509.82" x2="97.60000000000001" y2="509.82" stroke="#4d4d4d" stroke-width="0.8"/>
<line x1="95.4" y1="505.58" x2="97.60000000000001" y2="505.58" stroke="#4d4d4d" stroke-width="0.8"/>
<line x1="95.4" y1="501.34" x2="97.60000000000001" y2="501.34" stroke="#4d4d4d" stroke-width="0.8"/>
<line x1="95.4" y1="497.10" x2="99.2" y2="497.10" stroke="#4d4d4d" stroke-width="0.8"/>
<line x1="95.4" y1="492.86" x2="97.60000000000001" y2="492.86" stroke="#4d4d4d" stroke-width="0.8"/>
<line x1="95.4" y1="488.62" x2="97.60000000000001" y2="488.62" stroke="#4d4d4d" stroke-width="0.8"/>
<line x1="95.4" y1="484.38" x2="97.60000000000001" y2="484.38" stroke="#4d4d4d" stroke-width="0.8"/>
<line x1="95.4" y1="480.14" x2="97.60000000000001" y2="480.14" stroke="#4d4d4d" stroke-width="0.8"/>
<line x1="95.4" y1="475.90" x2="99.2" y2="475.90" stroke="#4d4d4d" stroke-width="0.8"/>
<line x1="95.4" y1="471.66" x2="97.60000000000001" y2="471.66" stroke="#4d4d4d" stroke-width="0.8"/>
<line x1="95.4" y1="467.42" x2="97.60000000000001" y2="467.42" stroke="#4d4d4d" stroke-width="0.8"/>
<line x1="95.4" y1="463.18" x2="97.60000000000001" y2="463.18" stroke="#4d4d4d" stroke-width="0.8"/>
<line x1="95.4" y1="458.94" x2="97.60000000000001" y2="458.94" stroke="#4d4d4d" stroke-width="0.8"/>
<line x1="95.4" y1="454.70" x2="99.2" y2="454.70" stroke="#4d4d4d" stroke-width="0.8"/>
<line x1="95.4" y1="450.46" x2="97.60000000000001" y2="450.46" stroke="#4d4d4d" stroke-width="0.8"/>
<line x1="95.4" y1="446.22" x2="97.60000000000001" y2="446.22" stroke="#4d4d4d" stroke-width="0.8"/>
<line x1="95.4" y1="441.98" x2="97.60000000000001" y2="441.98" stroke="#4d4d4d" stroke-width="0.8"/>
<line x1="95.4" y1="437.74" x2="97.60000000000001" y2="437.74" stroke="#4d4d4d" stroke-width="0.8"/>
<line x1="95.4" y1="433.50" x2="99.2" y2="433.50" stroke="#4d4d4d" stroke-width="0.8"/>
<line x1="95.4" y1="429.26" x2="97.60000000000001" y2="429.26" stroke="#4d4d4d" stroke-width="0.8"/>
<line x1="95.4" y1="425.02" x2="97.60000000000001" y2="425.02" stroke="#4d4d4d" stroke-width="0.8"/>
<line x1="95.4" y1="420.78" x2="97.60000000000001" y2="420.78" stroke="#4d4d4d" stroke-width="0.8"/>
<line x1="95.4" y1="416.54" x2="97.60000000000001" y2="416.54" stroke="#4d4d4d" stroke-width="0.8"/>
<line x1="95.4" y1="412.30" x2="99.2" y2="412.30" stroke="#4d4d4d" stroke-width="0.8"/>
<text transform="translate(91.4,521.2) scale(1,1.07)" font-size="10.3" font-weight="bold" fill="#0c0c0c" stroke="#0c0c0c" stroke-width="0.3" text-anchor="end">20</text>
<text transform="translate(91.4,500.0) scale(1,1.07)" font-size="10.3" font-weight="bold" fill="#0c0c0c" stroke="#0c0c0c" stroke-width="0.3" text-anchor="end">30</text>
<text transform="translate(91.4,478.8) scale(1,1.07)" font-size="10.3" font-weight="bold" fill="#0c0c0c" stroke="#0c0c0c" stroke-width="0.3" text-anchor="end">40</text>
<text transform="translate(91.4,457.6) scale(1,1.07)" font-size="10.3" font-weight="bold" fill="#0c0c0c" stroke="#0c0c0c" stroke-width="0.3" text-anchor="end">50</text>
<text transform="translate(91.4,436.4) scale(1,1.07)" font-size="10.3" font-weight="bold" fill="#0c0c0c" stroke="#0c0c0c" stroke-width="0.3" text-anchor="end">60</text>
<text transform="translate(91.4,415.2) scale(1,1.07)" font-size="10.3" font-weight="bold" fill="#0c0c0c" stroke="#0c0c0c" stroke-width="0.3" text-anchor="end">70</text>
<line x1="99.12" y1="538.3" x2="99.12" y2="536.0999999999999" stroke="#4d4d4d" stroke-width="0.8"/>
<line x1="104.02" y1="538.3" x2="104.02" y2="536.0999999999999" stroke="#4d4d4d" stroke-width="0.8"/>
<line x1="108.91" y1="538.3" x2="108.91" y2="536.0999999999999" stroke="#4d4d4d" stroke-width="0.8"/>
<line x1="113.81" y1="538.3" x2="113.81" y2="536.0999999999999" stroke="#4d4d4d" stroke-width="0.8"/>
<line x1="118.70" y1="538.3" x2="118.70" y2="534.5" stroke="#4d4d4d" stroke-width="0.8"/>
<line x1="123.59" y1="538.3" x2="123.59" y2="536.0999999999999" stroke="#4d4d4d" stroke-width="0.8"/>
<line x1="128.49" y1="538.3" x2="128.49" y2="536.0999999999999" stroke="#4d4d4d" stroke-width="0.8"/>
<line x1="133.38" y1="538.3" x2="133.38" y2="536.0999999999999" stroke="#4d4d4d" stroke-width="0.8"/>
<line x1="138.28" y1="538.3" x2="138.28" y2="536.0999999999999" stroke="#4d4d4d" stroke-width="0.8"/>
<line x1="143.17" y1="538.3" x2="143.17" y2="534.5" stroke="#4d4d4d" stroke-width="0.8"/>
<line x1="148.06" y1="538.3" x2="148.06" y2="536.0999999999999" stroke="#4d4d4d" stroke-width="0.8"/>
<line x1="152.96" y1="538.3" x2="152.96" y2="536.0999999999999" stroke="#4d4d4d" stroke-width="0.8"/>
<line x1="157.85" y1="538.3" x2="157.85" y2="536.0999999999999" stroke="#4d4d4d" stroke-width="0.8"/>
<line x1="162.75" y1="538.3" x2="162.75" y2="536.0999999999999" stroke="#4d4d4d" stroke-width="0.8"/>
<line x1="167.64" y1="538.3" x2="167.64" y2="534.5" stroke="#4d4d4d" stroke-width="0.8"/>
<line x1="172.53" y1="538.3" x2="172.53" y2="536.0999999999999" stroke="#4d4d4d" stroke-width="0.8"/>
<line x1="177.43" y1="538.3" x2="177.43" y2="536.0999999999999" stroke="#4d4d4d" stroke-width="0.8"/>
<line x1="182.32" y1="538.3" x2="182.32" y2="536.0999999999999" stroke="#4d4d4d" stroke-width="0.8"/>
<line x1="187.22" y1="538.3" x2="187.22" y2="536.0999999999999" stroke="#4d4d4d" stroke-width="0.8"/>
<line x1="192.11" y1="538.3" x2="192.11" y2="534.5" stroke="#4d4d4d" stroke-width="0.8"/>
<line x1="197.00" y1="538.3" x2="197.00" y2="536.0999999999999" stroke="#4d4d4d" stroke-width="0.8"/>
<line x1="201.90" y1="538.3" x2="201.90" y2="536.0999999999999" stroke="#4d4d4d" stroke-width="0.8"/>
<line x1="206.79" y1="538.3" x2="206.79" y2="536.0999999999999" stroke="#4d4d4d" stroke-width="0.8"/>
<line x1="211.69" y1="538.3" x2="211.69" y2="536.0999999999999" stroke="#4d4d4d" stroke-width="0.8"/>
<line x1="216.58" y1="538.3" x2="216.58" y2="534.5" stroke="#4d4d4d" stroke-width="0.8"/>
<line x1="221.47" y1="538.3" x2="221.47" y2="536.0999999999999" stroke="#4d4d4d" stroke-width="0.8"/>
<line x1="226.37" y1="538.3" x2="226.37" y2="536.0999999999999" stroke="#4d4d4d" stroke-width="0.8"/>
<line x1="231.26" y1="538.3" x2="231.26" y2="536.0999999999999" stroke="#4d4d4d" stroke-width="0.8"/>
<line x1="236.16" y1="538.3" x2="236.16" y2="536.0999999999999" stroke="#4d4d4d" stroke-width="0.8"/>
<line x1="241.05" y1="538.3" x2="241.05" y2="534.5" stroke="#4d4d4d" stroke-width="0.8"/>
<line x1="245.94" y1="538.3" x2="245.94" y2="536.0999999999999" stroke="#4d4d4d" stroke-width="0.8"/>
<line x1="250.84" y1="538.3" x2="250.84" y2="536.0999999999999" stroke="#4d4d4d" stroke-width="0.8"/>
<line x1="255.73" y1="538.3" x2="255.73" y2="536.0999999999999" stroke="#4d4d4d" stroke-width="0.8"/>
<line x1="260.63" y1="538.3" x2="260.63" y2="536.0999999999999" stroke="#4d4d4d" stroke-width="0.8"/>
<line x1="265.52" y1="538.3" x2="265.52" y2="534.5" stroke="#4d4d4d" stroke-width="0.8"/>
<line x1="270.41" y1="538.3" x2="270.41" y2="536.0999999999999" stroke="#4d4d4d" stroke-width="0.8"/>
<line x1="275.31" y1="538.3" x2="275.31" y2="536.0999999999999" stroke="#4d4d4d" stroke-width="0.8"/>
<text transform="translate(118.7,551.0) scale(1,1.07)" font-size="10.3" font-weight="bold" fill="#0c0c0c" stroke="#0c0c0c" stroke-width="0.3" text-anchor="middle">40</text>
<text transform="translate(143.17,551.0) scale(1,1.07)" font-size="10.3" font-weight="bold" fill="#0c0c0c" stroke="#0c0c0c" stroke-width="0.3" text-anchor="middle">50</text>
<text transform="translate(167.64,551.0) scale(1,1.07)" font-size="10.3" font-weight="bold" fill="#0c0c0c" stroke="#0c0c0c" stroke-width="0.3" text-anchor="middle">60</text>
<text transform="translate(192.11,551.0) scale(1,1.07)" font-size="10.3" font-weight="bold" fill="#0c0c0c" stroke="#0c0c0c" stroke-width="0.3" text-anchor="middle">70</text>
<text transform="translate(216.58,551.0) scale(1,1.07)" font-size="10.3" font-weight="bold" fill="#0c0c0c" stroke="#0c0c0c" stroke-width="0.3" text-anchor="middle">80</text>
<text transform="translate(241.05,551.0) scale(1,1.07)" font-size="10.3" font-weight="bold" fill="#0c0c0c" stroke="#0c0c0c" stroke-width="0.3" text-anchor="middle">90</text>
<text transform="translate(265.52,551.0) scale(1,1.07)" font-size="10.3" font-weight="bold" fill="#0c0c0c" stroke="#0c0c0c" stroke-width="0.3" text-anchor="middle">100</text>
<rect x="280.8" y="412" width="12" height="126.4" fill="url(#parula)"/>
<line x1="287" y1="417.4" x2="292.8" y2="417.4" stroke="#3a3a3a" stroke-width="0.8"/>
<line x1="287" y1="437.5" x2="292.8" y2="437.5" stroke="#3a3a3a" stroke-width="0.8"/>
<line x1="287" y1="457.7" x2="292.8" y2="457.7" stroke="#3a3a3a" stroke-width="0.8"/>
<line x1="287" y1="478" x2="292.8" y2="478" stroke="#3a3a3a" stroke-width="0.8"/>
<line x1="287" y1="498.3" x2="292.8" y2="498.3" stroke="#3a3a3a" stroke-width="0.8"/>
<line x1="287" y1="518.5" x2="292.8" y2="518.5" stroke="#3a3a3a" stroke-width="0.8"/>
<path d="M280.6,412 V538.6 M293,412 V538.6 M280.6,538.4 H293" stroke="#3d3d3d" stroke-width="0.5" fill="none"/>
<text transform="translate(106.2,434.0) scale(1,1.02)" font-size="14.6" font-weight="bold" fill="#0c0c0c" stroke="#0c0c0c" stroke-width="0.3">[c]</text>
<text x="154.6" y="443.8" font-size="10.6" font-weight="bold" fill="#0c0c0c" stroke="#0c0c0c" stroke-width="0.3" textLength="30.5">SSD1</text>
<text x="124.7" y="489.5" font-size="10.6" font-weight="bold" fill="#0c0c0c" stroke="#0c0c0c" stroke-width="0.3" textLength="31.5">SSD2</text>
<text x="165.3" y="567.2" font-size="10.6" font-weight="bold" fill="#0c0c0c" stroke="#0c0c0c" stroke-width="0.3" textLength="41.5">Φ (deg)</text>
<text transform="translate(69.6,502) rotate(-90)" font-size="10.6" font-weight="bold" fill="#0c0c0c" stroke="#0c0c0c" stroke-width="0.3" textLength="41.5">Θ (deg)</text>
<path d="M203.9,424.9 Q236,431.5 264.2,434 Q263,455 261,475.5 Q222,475 183.2,463.9 Q195,446 203.9,424.9 Z" fill="url(#ssd1g)"/>
<g clip-path="url(#ssd1clip)">
<ellipse cx="255.4" cy="439" rx="1.8" ry="3.6" fill="url(#wspot)"/>
<ellipse cx="239.3" cy="466.8" rx="3.6" ry="2.6" fill="url(#wspot)"/>
<ellipse cx="249" cy="470.3" rx="3.6" ry="2.6" fill="url(#wspot)"/>
</g>
<path d="M135.2,507.2 Q162,494 185.8,484.3 Q220,492.5 255.9,494.8 Q250,509 240.7,521.9 Q215,525.5 180,518.3 Q155,512.5 135.2,507.2 Z" fill="url(#ssd2g)"/>
<g clip-path="url(#ssd2clip)">
<ellipse cx="236" cy="517" rx="14" ry="7" fill="#4fc08a" opacity="0.35"/>
<ellipse cx="164.9" cy="497.4" rx="4.2" ry="3" fill="url(#wspot)"/>
<ellipse cx="157.6" cy="502.4" rx="3" ry="2.4" fill="url(#wspot)"/>
<ellipse cx="176.9" cy="504.6" rx="4" ry="3" fill="url(#wspot)"/>
<ellipse cx="196.5" cy="509.4" rx="4.5" ry="2.8" fill="url(#wspot)"/>
<ellipse cx="200" cy="509.2" rx="3.5" ry="2.5" fill="url(#wspot)"/>
<ellipse cx="213" cy="508.6" rx="4.5" ry="3.2" fill="url(#wspot)"/>
<ellipse cx="226.3" cy="503" rx="5.2" ry="3.8" fill="url(#wspot)"/>
<ellipse cx="222.5" cy="505.2" rx="4.2" ry="3" fill="url(#wspot)"/>
<ellipse cx="228.5" cy="509.6" rx="3.2" ry="2.5" fill="url(#wspot)"/>
<ellipse cx="243.6" cy="508.2" rx="5" ry="3.4" fill="url(#wspot)"/>
<ellipse cx="149.2" cy="507.9" rx="3" ry="2.2" fill="url(#yspot)"/>
<ellipse cx="158.1" cy="505.6" rx="2.8" ry="2.2" fill="url(#yspot)"/>
<ellipse cx="174.5" cy="513.6" rx="2.8" ry="2.2" fill="url(#yspot)"/>
<ellipse cx="185.3" cy="514" rx="3" ry="2.2" fill="url(#yspot)"/>
<ellipse cx="189.2" cy="512.1" rx="2.8" ry="2.2" fill="url(#yspot)"/>
<ellipse cx="190.3" cy="517.3" rx="2.8" ry="2.2" fill="url(#yspot)"/>
<ellipse cx="202.4" cy="514" rx="4.6" ry="3.4" fill="url(#yspot)"/>
<ellipse cx="224.8" cy="514.7" rx="5" ry="3.6" fill="url(#yspot)"/>
<ellipse cx="234" cy="518.2" rx="5.2" ry="3.6" fill="url(#yspot)"/>
<ellipse cx="237.5" cy="516.6" rx="4.2" ry="3.2" fill="url(#yspot)"/>
</g>
</g>
<!-- CHARTD -->
<g id="chartd">
<path d="M357.9,412.3 H542.7 M357.9,412.3 V538.3 H542.7" stroke="#4d4d4d" stroke-width="1" fill="none"/>
<line x1="357.9" y1="532.27" x2="360.29999999999995" y2="532.27" stroke="#4d4d4d" stroke-width="0.8"/>
<line x1="357.9" y1="525.75" x2="360.29999999999995" y2="525.75" stroke="#4d4d4d" stroke-width="0.8"/>
<line x1="357.9" y1="519.23" x2="360.29999999999995" y2="519.23" stroke="#4d4d4d" stroke-width="0.8"/>
<line x1="357.9" y1="512.70" x2="361.9" y2="512.70" stroke="#4d4d4d" stroke-width="0.8"/>
<line x1="357.9" y1="506.17" x2="360.29999999999995" y2="506.17" stroke="#4d4d4d" stroke-width="0.8"/>
<line x1="357.9" y1="499.65" x2="360.29999999999995" y2="499.65" stroke="#4d4d4d" stroke-width="0.8"/>
<line x1="357.9" y1="493.12" x2="360.29999999999995" y2="493.12" stroke="#4d4d4d" stroke-width="0.8"/>
<line x1="357.9" y1="486.60" x2="361.9" y2="486.60" stroke="#4d4d4d" stroke-width="0.8"/>
<line x1="357.9" y1="480.07" x2="360.29999999999995" y2="480.07" stroke="#4d4d4d" stroke-width="0.8"/>
<line x1="357.9" y1="473.55" x2="360.29999999999995" y2="473.55" stroke="#4d4d4d" stroke-width="0.8"/>
<line x1="357.9" y1="467.02" x2="360.29999999999995" y2="467.02" stroke="#4d4d4d" stroke-width="0.8"/>
<line x1="357.9" y1="460.50" x2="361.9" y2="460.50" stroke="#4d4d4d" stroke-width="0.8"/>
<line x1="357.9" y1="453.97" x2="360.29999999999995" y2="453.97" stroke="#4d4d4d" stroke-width="0.8"/>
<line x1="357.9" y1="447.45" x2="360.29999999999995" y2="447.45" stroke="#4d4d4d" stroke-width="0.8"/>
<line x1="357.9" y1="440.92" x2="360.29999999999995" y2="440.92" stroke="#4d4d4d" stroke-width="0.8"/>
<line x1="357.9" y1="434.40" x2="361.9" y2="434.40" stroke="#4d4d4d" stroke-width="0.8"/>
<line x1="357.9" y1="427.88" x2="360.29999999999995" y2="427.88" stroke="#4d4d4d" stroke-width="0.8"/>
<line x1="357.9" y1="421.35" x2="360.29999999999995" y2="421.35" stroke="#4d4d4d" stroke-width="0.8"/>
<line x1="357.9" y1="414.82" x2="360.29999999999995" y2="414.82" stroke="#4d4d4d" stroke-width="0.8"/>
<text transform="translate(352.7,516.8) scale(1,1.13)" font-size="12.4" font-weight="bold" fill="#0c0c0c" stroke="#0c0c0c" stroke-width="0.3" text-anchor="end">40</text>
<text transform="translate(352.7,490.7) scale(1,1.13)" font-size="12.4" font-weight="bold" fill="#0c0c0c" stroke="#0c0c0c" stroke-width="0.3" text-anchor="end">60</text>
<text transform="translate(352.7,464.6) scale(1,1.13)" font-size="12.4" font-weight="bold" fill="#0c0c0c" stroke="#0c0c0c" stroke-width="0.3" text-anchor="end">80</text>
<text transform="translate(352.7,438.5) scale(1,1.13)" font-size="12.4" font-weight="bold" fill="#0c0c0c" stroke="#0c0c0c" stroke-width="0.3" text-anchor="end">100</text>
<line x1="371.11" y1="538.3" x2="371.11" y2="535.9" stroke="#4d4d4d" stroke-width="0.8"/>
<line x1="385.50" y1="538.3" x2="385.50" y2="534.3" stroke="#4d4d4d" stroke-width="0.8"/>
<line x1="399.89" y1="538.3" x2="399.89" y2="535.9" stroke="#4d4d4d" stroke-width="0.8"/>
<line x1="414.28" y1="538.3" x2="414.28" y2="535.9" stroke="#4d4d4d" stroke-width="0.8"/>
<line x1="428.67" y1="538.3" x2="428.67" y2="535.9" stroke="#4d4d4d" stroke-width="0.8"/>
<line x1="443.06" y1="538.3" x2="443.06" y2="535.9" stroke="#4d4d4d" stroke-width="0.8"/>
<line x1="457.45" y1="538.3" x2="457.45" y2="534.3" stroke="#4d4d4d" stroke-width="0.8"/>
<line x1="471.84" y1="538.3" x2="471.84" y2="535.9" stroke="#4d4d4d" stroke-width="0.8"/>
<line x1="486.23" y1="538.3" x2="486.23" y2="535.9" stroke="#4d4d4d" stroke-width="0.8"/>
<line x1="500.62" y1="538.3" x2="500.62" y2="535.9" stroke="#4d4d4d" stroke-width="0.8"/>
<line x1="515.01" y1="538.3" x2="515.01" y2="535.9" stroke="#4d4d4d" stroke-width="0.8"/>
<line x1="529.40" y1="538.3" x2="529.40" y2="534.3" stroke="#4d4d4d" stroke-width="0.8"/>
<line x1="543.79" y1="538.3" x2="543.79" y2="535.9" stroke="#4d4d4d" stroke-width="0.8"/>
<text transform="translate(385.5,551.0) scale(1,1.07)" font-size="10.3" font-weight="bold" fill="#0c0c0c" stroke="#0c0c0c" stroke-width="0.3" text-anchor="middle">0</text>
<text transform="translate(457.45,551.0) scale(1,1.07)" font-size="10.3" font-weight="bold" fill="#0c0c0c" stroke="#0c0c0c" stroke-width="0.3" text-anchor="middle">100</text>
<text transform="translate(529.4,551.0) scale(1,1.07)" font-size="10.3" font-weight="bold" fill="#0c0c0c" stroke="#0c0c0c" stroke-width="0.3" text-anchor="middle">200</text>
<rect x="543.3" y="412" width="12.1" height="126.4" fill="url(#parula)"/>
<line x1="549.6" y1="417.4" x2="555.4" y2="417.4" stroke="#3a3a3a" stroke-width="0.8"/>
<line x1="549.6" y1="437.5" x2="555.4" y2="437.5" stroke="#3a3a3a" stroke-width="0.8"/>
<line x1="549.6" y1="457.7" x2="555.4" y2="457.7" stroke="#3a3a3a" stroke-width="0.8"/>
<line x1="549.6" y1="478" x2="555.4" y2="478" stroke="#3a3a3a" stroke-width="0.8"/>
<line x1="549.6" y1="498.3" x2="555.4" y2="498.3" stroke="#3a3a3a" stroke-width="0.8"/>
<line x1="549.6" y1="518.5" x2="555.4" y2="518.5" stroke="#3a3a3a" stroke-width="0.8"/>
<path d="M543.1,412 V538.6 M555.6,412 V538.6 M543.1,538.4 H555.6" stroke="#3d3d3d" stroke-width="0.5" fill="none"/>
<text transform="translate(368.8,433.7) scale(1,1.02)" font-size="14.6" font-weight="bold" fill="#0c0c0c" stroke="#0c0c0c" stroke-width="0.3">[d]</text>
<text x="373.4" y="466.6" font-size="11" font-weight="bold" fill="#0c0c0c" stroke="#0c0c0c" stroke-width="0.3" textLength="38.5">PPAC1</text>
<text x="442.2" y="450" font-size="11" font-weight="bold" fill="#0c0c0c" stroke="#0c0c0c" stroke-width="0.3" textLength="39">PPAC3</text>
<text x="442.2" y="493.4" font-size="11" font-weight="bold" fill="#0c0c0c" stroke="#0c0c0c" stroke-width="0.3" textLength="39">PPAC2</text>
<text x="427.7" y="567.2" font-size="10.6" font-weight="bold" fill="#0c0c0c" stroke="#0c0c0c" stroke-width="0.3" textLength="43">Φ (deg)</text>
<text transform="translate(332.6,502) rotate(-90)" font-size="10.6" font-weight="bold" fill="#0c0c0c" stroke="#0c0c0c" stroke-width="0.3" textLength="41.5">Θ (deg)</text>
<defs><radialGradient id="pp3" gradientUnits="userSpaceOnUse" cx="507.2" cy="448.4" r="22" gradientTransform="translate(507.2,448.4) scale(0.78,1.12) translate(-507.2,-448.4)"><stop offset="0" stop-color="#f5b92e"/><stop offset="0.2" stop-color="#ecb937"/><stop offset="0.38" stop-color="#a9bd66"/><stop offset="0.52" stop-color="#56b590"/><stop offset="0.66" stop-color="#1a9bc4"/><stop offset="0.82" stop-color="#1671cf"/><stop offset="0.95" stop-color="#2247b3"/><stop offset="1" stop-color="#2a3aa4"/></radialGradient>
<radialGradient id="pp1" gradientUnits="userSpaceOnUse" cx="392.8" cy="495.4" r="30" gradientTransform="translate(392.8,495.4) scale(0.92,0.95) translate(-392.8,-495.4)"><stop offset="0" stop-color="#f6b92c"/><stop offset="0.1" stop-color="#ecb937"/><stop offset="0.28" stop-color="#a9bd66"/><stop offset="0.42" stop-color="#56b590"/><stop offset="0.56" stop-color="#1a9bc4"/><stop offset="0.72" stop-color="#1671cf"/><stop offset="0.88" stop-color="#2247b3"/><stop offset="1" stop-color="#2a35a0"/></radialGradient>
<radialGradient id="pp2" gradientUnits="userSpaceOnUse" cx="507.6" cy="497.6" r="33" gradientTransform="translate(507.6,497.6) scale(1,0.86) translate(-507.6,-497.6)"><stop offset="0" stop-color="#f6b92c"/><stop offset="0.1" stop-color="#ecb937"/><stop offset="0.28" stop-color="#a9bd66"/><stop offset="0.42" stop-color="#56b590"/><stop offset="0.56" stop-color="#1a9bc4"/><stop offset="0.72" stop-color="#1671cf"/><stop offset="0.88" stop-color="#2247b3"/><stop offset="1" stop-color="#2a35a0"/></radialGradient></defs>
<rect x="493.8" y="427.9" width="26.8" height="40.5" fill="url(#pp3)"/>
<path d="M377.6,474.5 Q392.7,476.8 407.8,474.5 Q411,494 415.7,514.4 Q393,521 370.3,514.4 Q374.5,494 377.6,474.5 Z" fill="url(#pp1)"/>
<path d="M492.1,478.8 Q507.1,482.4 522.2,478.8 Q525.5,499 534.3,514.4 Q507.2,529 480.1,514.4 Q489,499 492.1,478.8 Z" fill="url(#pp2)"/>
</g>
<!-- DASH -->
<g id="dash" fill="#5b5b5b">
<polygon points="7.4,615 20.4,615 17.4,620.4 4.4,620.4"/>
<polygon points="29.7,615 42.7,615 39.7,620.4 26.7,620.4"/>
<polygon points="52.0,615 65.0,615 62.0,620.4 49.0,620.4"/>
<polygon points="74.2,615 87.2,615 84.2,620.4 71.2,620.4"/>
<polygon points="96.5,615 109.5,615 106.5,620.4 93.5,620.4"/>
<polygon points="118.8,615 131.8,615 128.8,620.4 115.8,620.4"/>
<polygon points="141.1,615 154.1,615 151.1,620.4 138.1,620.4"/>
<polygon points="163.4,615 176.4,615 173.4,620.4 160.4,620.4"/>
<polygon points="185.6,615 198.6,615 195.6,620.4 182.6,620.4"/>
<polygon points="207.9,615 220.9,615 217.9,620.4 204.9,620.4"/>
<polygon points="230.2,615 243.2,615 240.2,620.4 227.2,620.4"/>
<polygon points="252.5,615 265.5,615 262.5,620.4 249.5,620.4"/>
<polygon points="274.8,615 287.8,615 284.8,620.4 271.8,620.4"/>
<polygon points="297.0,615 310.0,615 307.0,620.4 294.0,620.4"/>
<polygon points="319.3,615 332.3,615 329.3,620.4 316.3,620.4"/>
<polygon points="341.6,615 354.6,615 351.6,620.4 338.6,620.4"/>
<polygon points="363.9,615 376.9,615 373.9,620.4 360.9,620.4"/>
<polygon points="386.2,615 399.2,615 396.2,620.4 383.2,620.4"/>
<polygon points="408.4,615 421.4,615 418.4,620.4 405.4,620.4"/>
<polygon points="430.7,615 443.7,615 440.7,620.4 427.7,620.4"/>
<polygon points="453.0,615 466.0,615 463.0,620.4 450.0,620.4"/>
<polygon points="475.3,615 488.3,615 485.3,620.4 472.3,620.4"/>
<polygon points="497.6,615 510.6,615 507.6,620.4 494.6,620.4"/>
<polygon points="519.8,615 532.8,615 529.8,620.4 516.8,620.4"/>
<polygon points="542.1,615 555.1,615 552.1,620.4 539.1,620.4"/>
<polygon points="564.4,615 577.4,615 574.4,620.4 561.4,620.4"/>
<polygon points="586.7,615 599.7,615 596.7,620.4 583.7,620.4"/>
<polygon points="609.0,615 622.0,615 619.0,620.4 606.0,620.4"/>
<polygon points="631.2,615 644.2,615 641.2,620.4 628.2,620.4"/>
<polygon points="653.5,615 666.5,615 663.5,620.4 650.5,620.4"/>
<polygon points="675.8,615 688.8,615 685.8,620.4 672.8,620.4"/>
<polygon points="698.1,615 711.1,615 708.1,620.4 695.1,620.4"/>
<polygon points="720.4,615 733.4,615 730.4,620.4 717.4,620.4"/>
<polygon points="742.6,615 755.6,615 752.6,620.4 739.6,620.4"/>
<polygon points="764.9,615 777.9,615 774.9,620.4 761.9,620.4"/>
<polygon points="787.2,615 800.2,615 797.2,620.4 784.2,620.4"/>
<polygon points="809.5,615 822.5,615 819.5,620.4 806.5,620.4"/>
<polygon points="831.8,615 844.8,615 841.8,620.4 828.8,620.4"/>
<polygon points="854.0,615 867.0,615 864.0,620.4 851.0,620.4"/>
<polygon points="876.3,615 889.3,615 886.3,620.4 873.3,620.4"/>
<polygon points="898.6,615 911.6,615 908.6,620.4 895.6,620.4"/>
<polygon points="920.9,615 933.9,615 930.9,620.4 917.9,620.4"/>
<polygon points="943.2,615 956.2,615 953.2,620.4 940.2,620.4"/>
<polygon points="965.4,615 978.4,615 975.4,620.4 962.4,620.4"/>
<polygon points="987.7,615 1000.7,615 997.7,620.4 984.7,620.4"/>
<polygon points="1010.0,615 1023.0,615 1020.0,620.4 1007.0,620.4"/>
<polygon points="1032.3,615 1045.3,615 1042.3,620.4 1029.3,620.4"/>
<polygon points="1054.6,615 1067.6,615 1064.6,620.4 1051.6,620.4"/>
<polygon points="1076.8,615 1089.8,615 1086.8,620.4 1073.8,620.4"/>
</g>
<!-- QR -->
<g id="qr">
<rect x="26.8" y="641.6" width="59" height="59" fill="#fff"/>
<path d="M27.30,642.88h10.97M42.98,642.88h4.70M50.81,642.88h1.57M58.65,642.88h3.14M63.35,642.88h9.41M74.33,642.88h10.97M27.30,644.45h1.57M36.71,644.45h1.57M39.84,644.45h1.57M42.98,644.45h1.57M47.68,644.45h3.14M52.38,644.45h1.57M55.52,644.45h3.14M61.79,644.45h4.70M69.62,644.45h3.14M74.33,644.45h1.57M83.73,644.45h1.57M27.30,646.02h1.57M30.44,646.02h4.70M36.71,646.02h1.57M39.84,646.02h1.57M42.98,646.02h3.14M49.25,646.02h1.57M52.38,646.02h3.14M57.08,646.02h6.27M64.92,646.02h1.57M68.06,646.02h3.14M74.33,646.02h1.57M77.46,646.02h4.70M83.73,646.02h1.57M27.30,647.59h1.57M30.44,647.59h4.70M36.71,647.59h1.57M39.84,647.59h3.14M44.54,647.59h1.57M47.68,647.59h1.57M52.38,647.59h3.14M57.08,647.59h3.14M64.92,647.59h1.57M68.06,647.59h4.70M74.33,647.59h1.57M77.46,647.59h4.70M83.73,647.59h1.57M27.30,649.15h1.57M30.44,649.15h4.70M36.71,649.15h1.57M42.98,649.15h1.57M46.11,649.15h1.57M49.25,649.15h1.57M52.38,649.15h1.57M64.92,649.15h1.57M71.19,649.15h1.57M74.33,649.15h1.57M77.46,649.15h4.70M83.73,649.15h1.57M27.30,650.72h1.57M36.71,650.72h1.57M41.41,650.72h1.57M44.54,650.72h1.57M47.68,650.72h3.14M52.38,650.72h1.57M57.08,650.72h4.70M63.35,650.72h3.14M69.62,650.72h1.57M74.33,650.72h1.57M83.73,650.72h1.57M27.30,652.29h10.97M39.84,652.29h1.57M42.98,652.29h1.57M46.11,652.29h1.57M49.25,652.29h1.57M52.38,652.29h1.57M55.52,652.29h1.57M58.65,652.29h1.57M61.79,652.29h1.57M64.92,652.29h1.57M68.06,652.29h1.57M71.19,652.29h1.57M74.33,652.29h10.97M39.84,653.86h4.70M46.11,653.86h4.70M57.08,653.86h1.57M61.79,653.86h1.57M66.49,653.86h3.14M33.57,655.42h1.57M36.71,655.42h1.57M42.98,655.42h1.57M47.68,655.42h4.70M55.52,655.42h3.14M60.22,655.42h1.57M63.35,655.42h3.14M68.06,655.42h3.14M79.03,655.42h1.57M82.16,655.42h3.14M28.87,656.99h1.57M38.27,656.99h3.14M44.54,656.99h1.57M52.38,656.99h1.57M58.65,656.99h1.57M63.35,656.99h1.57M68.06,656.99h1.57M71.19,656.99h1.57M74.33,656.99h1.57M79.03,656.99h6.27M30.44,658.56h4.70M36.71,658.56h3.14M41.41,658.56h4.70M47.68,658.56h3.14M52.38,658.56h1.57M55.52,658.56h1.57M58.65,658.56h3.14M63.35,658.56h4.70M69.62,658.56h3.14M82.16,658.56h1.57M30.44,660.13h3.14M35.14,660.13h1.57M39.84,660.13h3.14M44.54,660.13h3.14M49.25,660.13h1.57M52.38,660.13h3.14M57.08,660.13h3.14M64.92,660.13h1.57M72.76,660.13h6.27M83.73,660.13h1.57M27.30,661.69h3.14M35.14,661.69h3.14M39.84,661.69h1.57M42.98,661.69h3.14M47.68,661.69h1.57M50.81,661.69h1.57M55.52,661.69h3.14M60.22,661.69h4.70M66.49,661.69h1.57M75.89,661.69h1.57M83.73,661.69h1.57M33.57,663.26h1.57M42.98,663.26h1.57M46.11,663.26h7.84M57.08,663.26h1.57M61.79,663.26h1.57M68.06,663.26h1.57M77.46,663.26h1.57M82.16,663.26h3.14M27.30,664.83h7.84M36.71,664.83h1.57M47.68,664.83h1.57M52.38,664.83h1.57M55.52,664.83h6.27M63.35,664.83h1.57M66.49,664.83h1.57M71.19,664.83h3.14M77.46,664.83h1.57M80.60,664.83h4.70M27.30,666.40h3.14M32.00,666.40h1.57M41.41,666.40h1.57M44.54,666.40h3.14M49.25,666.40h1.57M55.52,666.40h1.57M61.79,666.40h1.57M64.92,666.40h4.70M71.19,666.40h3.14M75.89,666.40h3.14M80.60,666.40h1.57M32.00,667.96h3.14M36.71,667.96h1.57M39.84,667.96h3.14M50.81,667.96h3.14M58.65,667.96h6.27M66.49,667.96h1.57M69.62,667.96h3.14M77.46,667.96h6.27M28.87,669.53h3.14M38.27,669.53h3.14M42.98,669.53h1.57M47.68,669.53h1.57M53.95,669.53h4.70M60.22,669.53h3.14M64.92,669.53h1.57M68.06,669.53h1.57M71.19,669.53h3.14M75.89,669.53h3.14M82.16,669.53h3.14M27.30,671.10h1.57M30.44,671.10h3.14M36.71,671.10h1.57M41.41,671.10h1.57M44.54,671.10h4.70M52.38,671.10h10.97M71.19,671.10h1.57M75.89,671.10h3.14M30.44,672.67h1.57M35.14,672.67h1.57M41.41,672.67h1.57M44.54,672.67h1.57M49.25,672.67h3.14M57.08,672.67h3.14M63.35,672.67h1.57M71.19,672.67h1.57M32.00,674.24h6.27M39.84,674.24h7.84M49.25,674.24h4.70M57.08,674.24h4.70M64.92,674.24h7.84M75.89,674.24h6.27M83.73,674.24h1.57M30.44,675.80h3.14M41.41,675.80h4.70M49.25,675.80h1.57M53.95,675.80h1.57M58.65,675.80h6.27M69.62,675.80h6.27M82.16,675.80h1.57M27.30,677.37h1.57M30.44,677.37h1.57M36.71,677.37h3.14M41.41,677.37h4.70M50.81,677.37h1.57M53.95,677.37h1.57M57.08,677.37h1.57M60.22,677.37h1.57M64.92,677.37h1.57M68.06,677.37h7.84M77.46,677.37h1.57M80.60,677.37h4.70M32.00,678.94h3.14M39.84,678.94h3.14M46.11,678.94h1.57M49.25,678.94h3.14M53.95,678.94h4.70M60.22,678.94h3.14M64.92,678.94h1.57M71.19,678.94h1.57M74.33,678.94h4.70M82.16,678.94h3.14M30.44,680.51h9.41M41.41,680.51h1.57M49.25,680.51h7.84M64.92,680.51h4.70M71.19,680.51h3.14M80.60,680.51h1.57M28.87,682.07h1.57M32.00,682.07h1.57M41.41,682.07h1.57M46.11,682.07h4.70M53.95,682.07h1.57M57.08,682.07h4.70M63.35,682.07h1.57M71.19,682.07h1.57M79.03,682.07h1.57M82.16,682.07h1.57M27.30,683.64h1.57M32.00,683.64h1.57M35.14,683.64h4.70M44.54,683.64h1.57M49.25,683.64h1.57M53.95,683.64h7.84M63.35,683.64h1.57M66.49,683.64h10.97M80.60,683.64h3.14M32.00,685.21h1.57M38.27,685.21h3.14M47.68,685.21h1.57M50.81,685.21h3.14M61.79,685.21h1.57M64.92,685.21h4.70M74.33,685.21h1.57M77.46,685.21h7.84M33.57,686.78h1.57M36.71,686.78h1.57M42.98,686.78h1.57M46.11,686.78h1.57M50.81,686.78h7.84M61.79,686.78h3.14M66.49,686.78h3.14M71.19,686.78h1.57M74.33,686.78h1.57M77.46,686.78h4.70M41.41,688.34h1.57M44.54,688.34h3.14M49.25,688.34h1.57M55.52,688.34h1.57M60.22,688.34h6.27M68.06,688.34h1.57M74.33,688.34h3.14M82.16,688.34h3.14M27.30,689.91h10.97M41.41,689.91h1.57M44.54,689.91h3.14M49.25,689.91h3.14M53.95,689.91h3.14M58.65,689.91h1.57M63.35,689.91h3.14M68.06,689.91h7.84M77.46,689.91h1.57M27.30,691.48h1.57M36.71,691.48h1.57M39.84,691.48h3.14M47.68,691.48h4.70M53.95,691.48h3.14M63.35,691.48h10.97M75.89,691.48h1.57M83.73,691.48h1.57M27.30,693.05h1.57M30.44,693.05h4.70M36.71,693.05h1.57M39.84,693.05h1.57M42.98,693.05h4.70M52.38,693.05h6.27M60.22,693.05h3.14M66.49,693.05h3.14M71.19,693.05h3.14M75.89,693.05h9.41M27.30,694.61h1.57M30.44,694.61h4.70M36.71,694.61h1.57M41.41,694.61h3.14M47.68,694.61h3.14M52.38,694.61h3.14M61.79,694.61h3.14M66.49,694.61h1.57M69.62,694.61h4.70M75.89,694.61h9.41M27.30,696.18h1.57M30.44,696.18h4.70M36.71,696.18h1.57M39.84,696.18h7.84M50.81,696.18h4.70M57.08,696.18h1.57M63.35,696.18h6.27M71.19,696.18h1.57M75.89,696.18h7.84M27.30,697.75h1.57M36.71,697.75h1.57M41.41,697.75h4.70M47.68,697.75h3.14M52.38,697.75h9.41M68.06,697.75h1.57M72.76,697.75h1.57M80.60,697.75h1.57M83.73,697.75h1.57M27.30,699.32h10.97M39.84,699.32h4.70M46.11,699.32h7.84M60.22,699.32h10.97M72.76,699.32h7.84M83.73,699.32h1.57" stroke="#0a0a0a" stroke-width="1.618" fill="none"/>
<rect x="48.6" y="664.5" width="15" height="14.6" fill="#fff"/>
<rect x="49.3" y="665.2" width="13.6" height="13.2" fill="#5b9fd9"/>
<text x="56.1" y="673.6" font-size="4.6" font-weight="bold" fill="#e8f2fb" text-anchor="middle" style="font-family:'Liberation Serif',serif">NST</text>
</g>
<!-- TSINGHUA -->
<g id="tsinghua">
<circle cx="896.7" cy="667" r="23.9" fill="none" stroke="#6a3495" stroke-width="0.9"/>
<circle cx="896.7" cy="667" r="22.4" fill="none" stroke="#6a3495" stroke-width="0.5"/>
<circle cx="896.7" cy="667" r="19" fill="none" stroke="#6a3495" stroke-width="3.8" stroke-dasharray="1.7 0.7" opacity="0.9"/>
<circle cx="896.7" cy="667" r="15.6" fill="none" stroke="#6a3495" stroke-width="0.7"/>
<circle cx="896.7" cy="667" r="13.6" fill="none" stroke="#6a3495" stroke-width="1.6"/>
<circle cx="896.7" cy="667" r="9.6" fill="none" stroke="#6a3495" stroke-width="4.8" stroke-dasharray="4.4 0.9" opacity="0.85"/>
<circle cx="896.7" cy="667" r="5.6" fill="none" stroke="#6a3495" stroke-width="1"/>
<polygon points="896.70,663.40 897.58,665.79 900.12,665.89 898.13,667.46 898.82,669.91 896.70,668.50 894.58,669.91 895.27,667.46 893.28,665.89 895.82,665.79" fill="#6a3495"/>
<line x1="902.43" y1="669.37" x2="908.71" y2="671.97" stroke="#fff" stroke-width="0.9"/>
<line x1="899.07" y1="672.73" x2="901.67" y2="679.01" stroke="#fff" stroke-width="0.9"/>
<line x1="894.33" y1="672.73" x2="891.73" y2="679.01" stroke="#fff" stroke-width="0.9"/>
<line x1="890.97" y1="669.37" x2="884.69" y2="671.97" stroke="#fff" stroke-width="0.9"/>
<line x1="890.97" y1="664.63" x2="884.69" y2="662.03" stroke="#fff" stroke-width="0.9"/>
<line x1="894.33" y1="661.27" x2="891.73" y2="654.99" stroke="#fff" stroke-width="0.9"/>
<line x1="899.07" y1="661.27" x2="901.67" y2="654.99" stroke="#fff" stroke-width="0.9"/>
<line x1="902.43" y1="664.63" x2="908.71" y2="662.03" stroke="#fff" stroke-width="0.9"/>
<text x="932.7" y="689.2" font-size="11.2" fill="#6a3495" textLength="95.3" style="font-family:'Liberation Serif',serif">Tsinghua University</text>
<path d="M932.5,648.6 L934.1,649.9" stroke="#6a3495" stroke-width="3.07" fill="none" stroke-linecap="round" stroke-linejoin="round"/>
<path d="M933.0,657.7 L932.7,665.7 L933.5,674.7" stroke="#6a3495" stroke-width="3.3" fill="none" stroke-linecap="round" stroke-linejoin="round"/>
<path d="M933.7,659.8 L937.2,656.1 L941.0,652.9" stroke="#6a3495" stroke-width="1.65" fill="none" stroke-linecap="round" stroke-linejoin="round"/>
<path d="M949.3,644.4 L947.6,657.2 L946.3,673.1" stroke="#6a3495" stroke-width="3.07" fill="none" stroke-linecap="round" stroke-linejoin="round"/>
<path d="M941.0,649.9 L946.8,648.1 L952.9,645.7" stroke="#6a3495" stroke-width="2.12" fill="none" stroke-linecap="round" stroke-linejoin="round"/>
<path d="M942.0,654.2 L951.6,651.6" stroke="#6a3495" stroke-width="1.77" fill="none" stroke-linecap="round" stroke-linejoin="round"/>
<path d="M941.8,658.4 L951.2,657.0" stroke="#6a3495" stroke-width="1.77" fill="none" stroke-linecap="round" stroke-linejoin="round"/>
<path d="M944.0,654.0 L943.5,664.6 L942.9,674.2" stroke="#6a3495" stroke-width="2.12" fill="none" stroke-linecap="round" stroke-linejoin="round"/>
<path d="M950.3,657.2 L949.7,665.7 L949.1,673.1" stroke="#6a3495" stroke-width="1.89" fill="none" stroke-linecap="round" stroke-linejoin="round"/>
<path d="M943.3,663.0 L949.7,662.1" stroke="#6a3495" stroke-width="1.42" fill="none" stroke-linecap="round" stroke-linejoin="round"/>
<path d="M943.1,667.8 L949.5,667.0" stroke="#6a3495" stroke-width="1.42" fill="none" stroke-linecap="round" stroke-linejoin="round"/>
<path d="M967.6,649.9 L975.1,647.6 L981.4,644.6" stroke="#6a3495" stroke-width="2.12" fill="none" stroke-linecap="round" stroke-linejoin="round"/>
<path d="M969.7,645.5 L971.0,650.8" stroke="#6a3495" stroke-width="1.77" fill="none" stroke-linecap="round" stroke-linejoin="round"/>
<path d="M978.2,644.4 L977.4,649.7" stroke="#6a3495" stroke-width="1.77" fill="none" stroke-linecap="round" stroke-linejoin="round"/>
<path d="M963.9,655.7 L972.9,654.0 L983.0,650.8" stroke="#6a3495" stroke-width="2.36" fill="none" stroke-linecap="round" stroke-linejoin="round"/>
<path d="M965.7,660.6 L980.4,657.4" stroke="#6a3495" stroke-width="1.89" fill="none" stroke-linecap="round" stroke-linejoin="round"/>
<path d="M963.3,664.8 L972.9,663.3 L982.7,660.8" stroke="#6a3495" stroke-width="2.36" fill="none" stroke-linecap="round" stroke-linejoin="round"/>
<path d="M964.2,669.9 L978.2,666.8" stroke="#6a3495" stroke-width="2.01" fill="none" stroke-linecap="round" stroke-linejoin="round"/>
<path d="M976.3,646.3 L974.2,659.3 L971.4,675.5" stroke="#6a3495" stroke-width="2.95" fill="none" stroke-linecap="round" stroke-linejoin="round"/>
<path d="M967.6,652.4 L967.2,659.3" stroke="#6a3495" stroke-width="1.53" fill="none" stroke-linecap="round" stroke-linejoin="round"/>
<path d="M980.4,651.8 L979.5,659.3" stroke="#6a3495" stroke-width="1.53" fill="none" stroke-linecap="round" stroke-linejoin="round"/>
<path d="M991.6,663.1 L998.5,659.8 L1004.4,655.7" stroke="#6a3495" stroke-width="2.6" fill="none" stroke-linecap="round" stroke-linejoin="round"/>
<path d="M1001.3,648.6 L998.5,659.3 L994.2,667.8 L989.5,673.1" stroke="#6a3495" stroke-width="2.83" fill="none" stroke-linecap="round" stroke-linejoin="round"/>
<path d="M998.5,662.7 L1002.7,667.3 L1007.2,669.9" stroke="#6a3495" stroke-width="2.83" fill="none" stroke-linecap="round" stroke-linejoin="round"/>
<path d="M1030.6,643.5 L1027.2,647.6 L1024.0,650.8" stroke="#6a3495" stroke-width="2.6" fill="none" stroke-linecap="round" stroke-linejoin="round"/>
<path d="M1021.1,654.2 L1018.7,659.8" stroke="#6a3495" stroke-width="2.36" fill="none" stroke-linecap="round" stroke-linejoin="round"/>
<path d="M1025.1,654.2 L1031.7,651.0" stroke="#6a3495" stroke-width="1.89" fill="none" stroke-linecap="round" stroke-linejoin="round"/>
<path d="M1032.6,651.8 L1034.7,655.9" stroke="#6a3495" stroke-width="2.12" fill="none" stroke-linecap="round" stroke-linejoin="round"/>
<path d="M1026.2,648.6 L1029.9,654.0" stroke="#6a3495" stroke-width="1.65" fill="none" stroke-linecap="round" stroke-linejoin="round"/>
<path d="M1017.9,661.0 L1027.2,658.9 L1035.8,656.3 L1034.2,659.8" stroke="#6a3495" stroke-width="2.24" fill="none" stroke-linecap="round" stroke-linejoin="round"/>
<path d="M1024.0,664.0 L1031.7,661.6 L1028.8,665.9" stroke="#6a3495" stroke-width="1.89" fill="none" stroke-linecap="round" stroke-linejoin="round"/>
<path d="M1029.6,664.6 L1028.5,669.9 L1027.0,675.5 L1024.6,673.7" stroke="#6a3495" stroke-width="2.6" fill="none" stroke-linecap="round" stroke-linejoin="round"/>
<path d="M1019.4,672.3 L1027.2,671.0 L1035.8,668.9" stroke="#6a3495" stroke-width="2.6" fill="none" stroke-linecap="round" stroke-linejoin="round"/>
</g>
</svg>

<div id="caption" class="abs">These results for the energy resolution of<br>the SSD and CsI(Tl) are essential for<br>physical analyses of the HBT correlation</div>
<div id="cite" class="abs">CSHINE for studies of HBT correlation in heavy ion reactions<br>Wang, Y.J. et al. (2021) 32:4 I Nuclear Science and Techniques<br>DOI: 10.1007/s41365-020-00842-2</div>
</body>
</html>
